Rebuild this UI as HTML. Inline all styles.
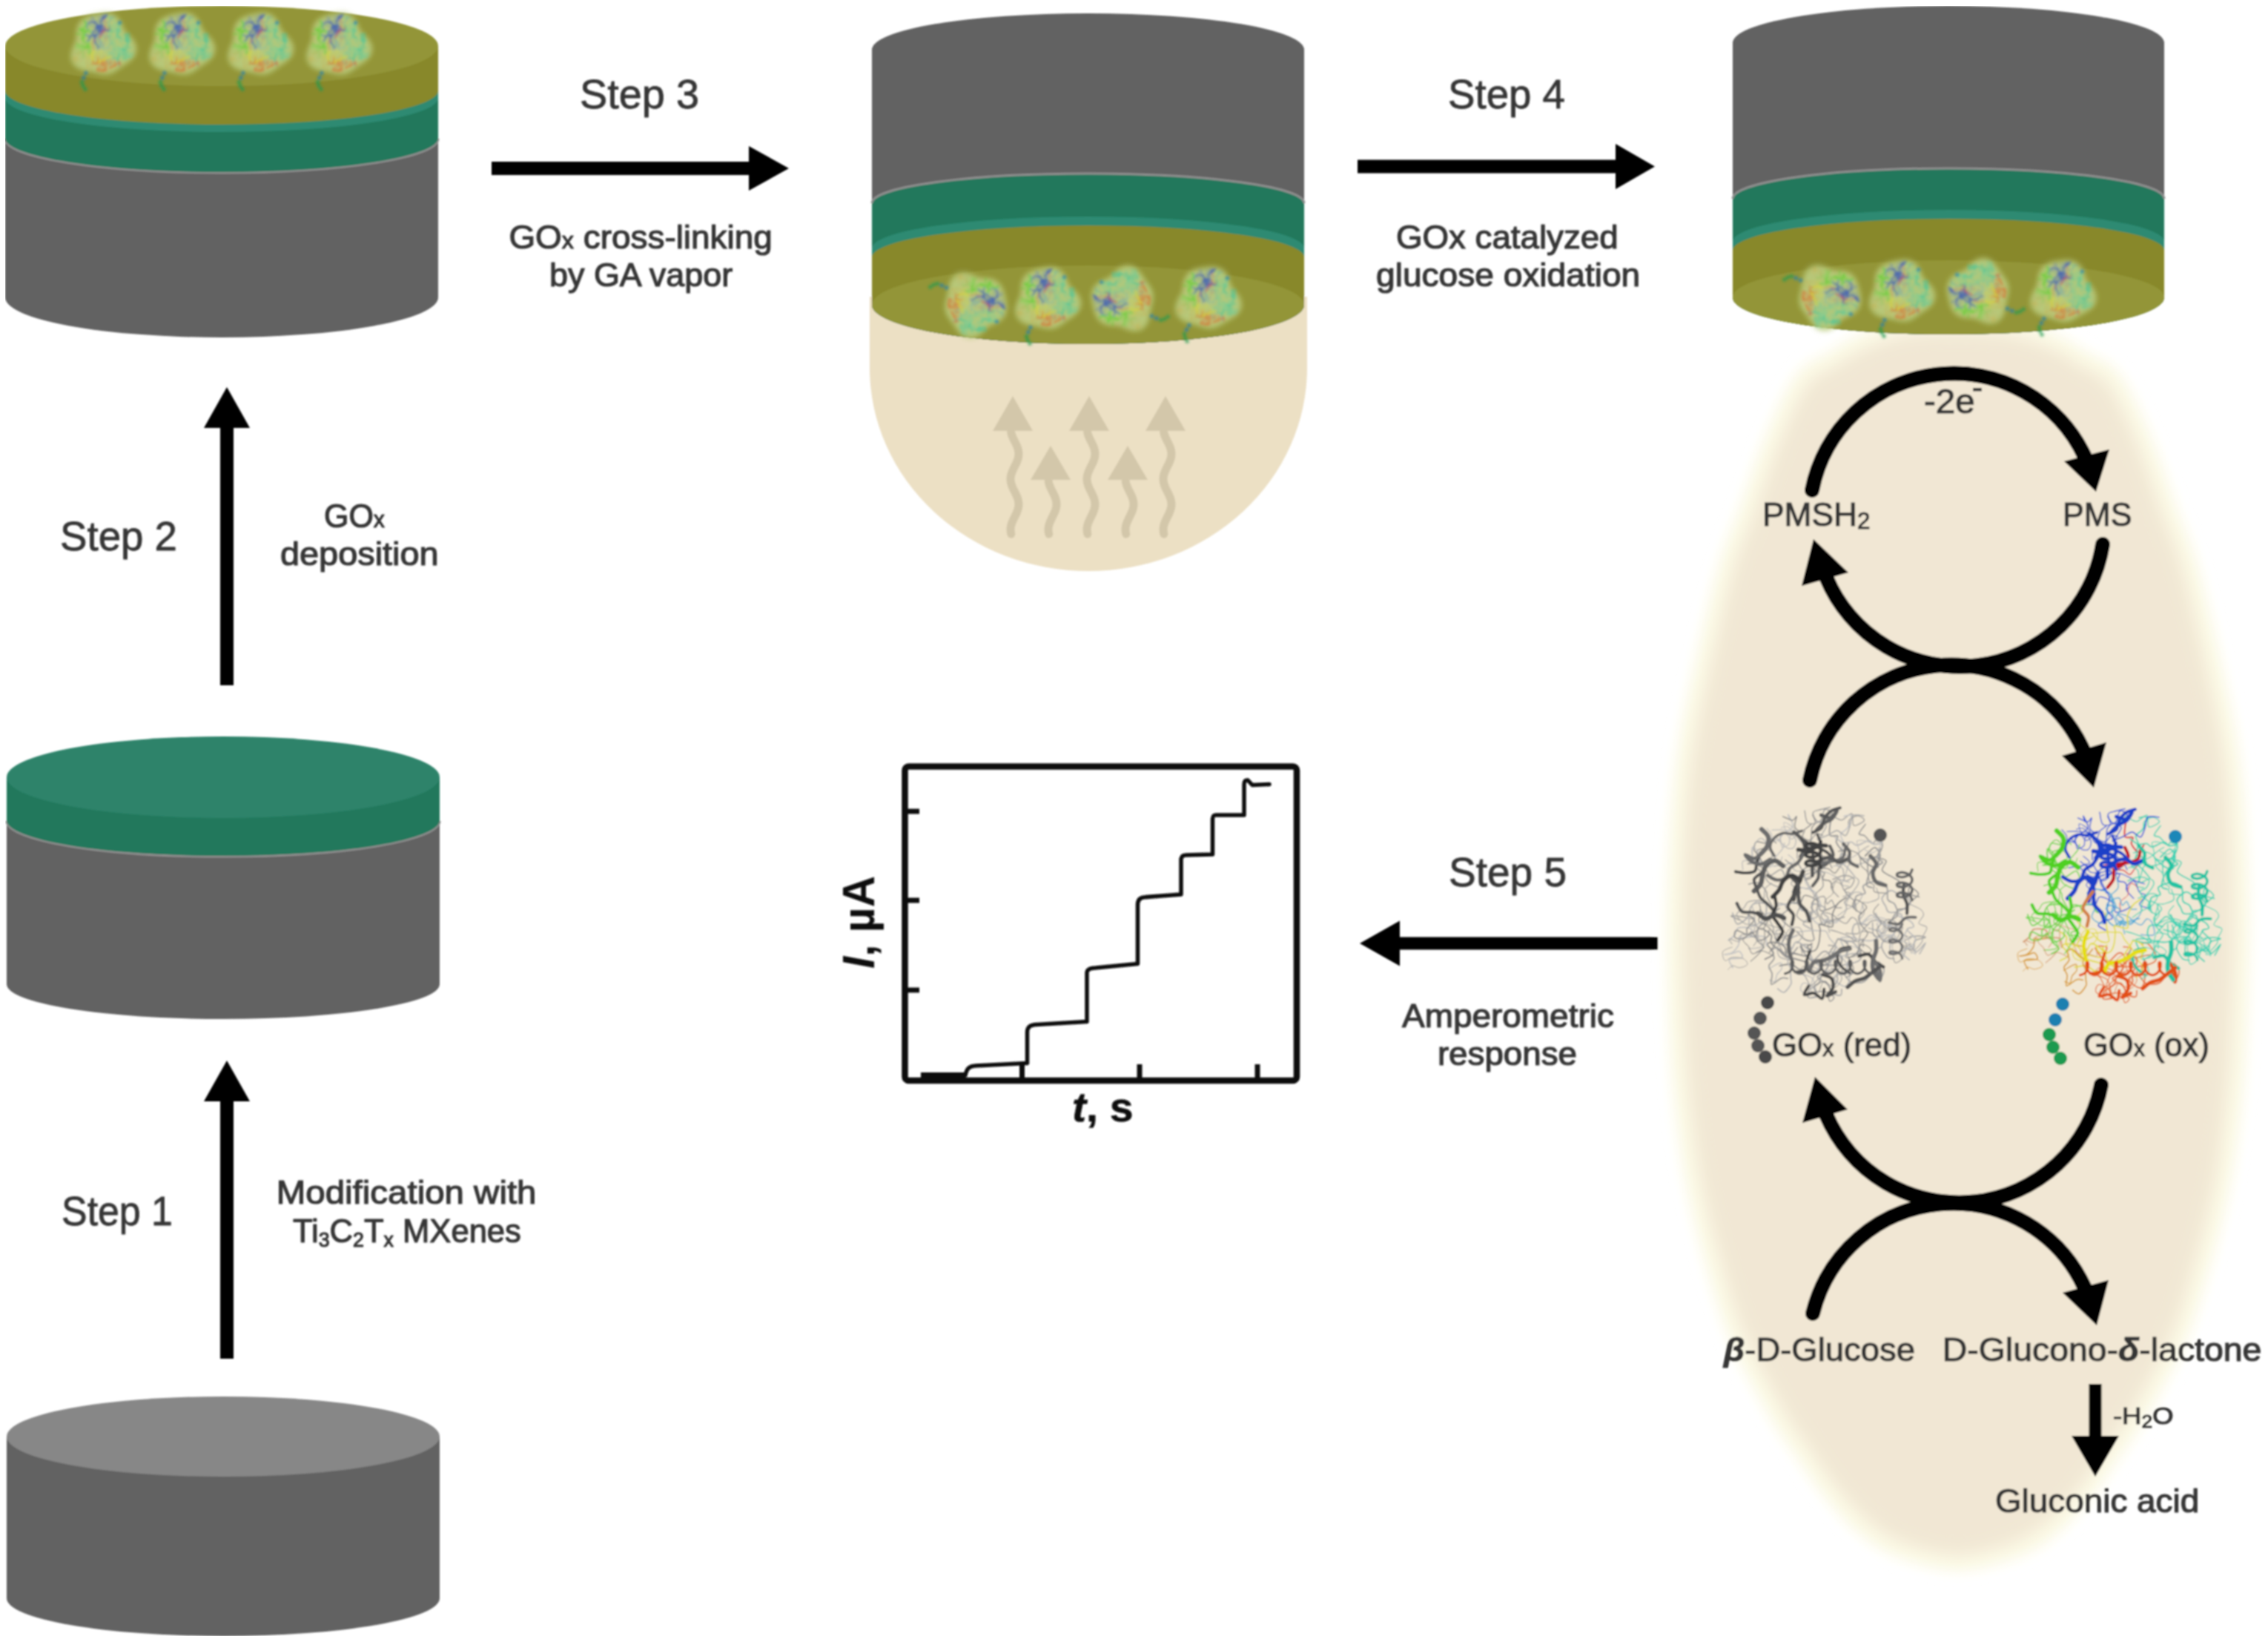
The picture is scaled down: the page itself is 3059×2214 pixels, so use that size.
<!DOCTYPE html>
<html><head><meta charset="utf-8"><style>html,body{margin:0;padding:0;background:#fff;overflow:hidden}svg{display:block}</style></head>
<body><svg width="3059" height="2214" viewBox="0 0 3059 2214">
<defs><filter id="soft" x="-10%" y="-10%" width="120%" height="120%"><feGaussianBlur stdDeviation="9"/></filter><filter id="soft2" x="-10%" y="-10%" width="120%" height="120%"><feGaussianBlur stdDeviation="11"/></filter><filter id="gblur" x="0" y="0" width="100%" height="100%"><feGaussianBlur stdDeviation="1"/></filter><filter id="blur1" x="-20%" y="-20%" width="140%" height="140%"><feGaussianBlur stdDeviation="1"/></filter><filter id="blur2" x="-30%" y="-30%" width="160%" height="160%"><feGaussianBlur stdDeviation="3"/></filter><filter id="bhalo" x="-30%" y="-30%" width="160%" height="160%"><feGaussianBlur stdDeviation="12"/></filter><filter id="bmini" x="-30%" y="-30%" width="160%" height="160%"><feGaussianBlur stdDeviation="6"/></filter><filter id="bbig" x="-10%" y="-10%" width="120%" height="120%"><feGaussianBlur stdDeviation="0.7"/></filter><g id="pgrey"><g fill="none" stroke-linecap="round" stroke-linejoin="round"><path d="M94.9,44 C95.7,42.9 96.6,40.1 99.6,37.2 C102.5,34.4 110.8,30.1 112.7,27.1 C114.7,24 112.3,21.8 111.3,19 C110.3,16.2 107.2,10.5 106.8,10.4 C106.4,10.2 108.7,16.7 109,17.9" stroke="#c2c2c2" stroke-width="1.6"/>
<path d="M184.8,170.2 C187.7,170.2 199.6,172.8 202.1,170.2 C204.6,167.5 201.2,157.8 199.6,154.3 C198,150.8 194.8,148.8 192.4,149.2 C190,149.7 188,156.2 185.4,157 C182.8,157.7 180,155.7 176.8,153.7 C173.6,151.8 169.9,146.9 166,145.1 C162,143.3 155.5,141.8 153.3,142.7 C151,143.6 150.6,148 152.5,150.5 C154.4,153.1 162.6,156.8 164.7,158" stroke="#989898" stroke-width="1.4"/>
<path d="M171.6,132.3 C170.1,133.1 166.5,135.8 163,137 C159.4,138.3 153.5,141.6 150.5,139.8 C147.6,138 148.8,129.4 145.3,126 C141.7,122.6 132.9,118.7 129.3,119.3 C125.6,119.8 125.9,127.5 123.5,129.3 C121.1,131.1 116.1,129.8 114.6,130" stroke="#868686" stroke-width="1.5"/>
<path d="M195.8,223.3 C194,223.5 189.3,224.2 185,224.9 C180.6,225.5 171.9,225.6 169.7,227.3 C167.5,229.1 169.1,233 171.6,235.4 C174,237.8 181.4,243.1 184.5,241.9 C187.6,240.7 189.9,232.6 190.1,228.2 C190.3,223.8 185.7,219.7 185.7,215.7 C185.6,211.8 189.1,206.5 189.8,204.6" stroke="#bebebe" stroke-width="1.7"/>
<path d="M104.2,178.4 C103.3,177.2 102,172.5 99.3,171.2 C96.6,170 90.1,172.4 88,171 C85.9,169.6 87.8,166.3 86.9,163 C86,159.6 81,153.9 82.6,150.7 C84.3,147.6 93.5,143.7 96.8,144 C100.2,144.2 101.9,150.8 102.9,152.2" stroke="#9b9b9b" stroke-width="1.4"/>
<path d="M68,68.1 C67.5,69.8 63.8,75.3 65.2,77.9 C66.7,80.6 73.6,81.6 76.5,84 C79.5,86.4 79.6,92.3 83,92.3 C86.4,92.4 93.9,83.6 97.1,84.5 C100.3,85.3 102.4,93.6 102.2,97.5 C102,101.4 99.7,107.1 96,107.8 C92.4,108.4 83.8,104.4 80.1,101.5 C76.4,98.5 76.3,93.2 73.8,90.1 C71.3,87 66.4,84.2 64.9,83" stroke="#9e9e9e" stroke-width="1.5"/>
<path d="M129.1,32.1 C128.7,33.5 125.2,38.5 126.4,40.5 C127.7,42.6 134.7,46.5 136.8,44.4 C138.9,42.4 137.7,32.3 138.9,28.3 C140,24.4 143.5,23.8 143.6,20.9 C143.7,17.9 140.2,12.5 139.6,10.8" stroke="#8b8b8b" stroke-width="1.4"/>
<path d="M136.5,141.3 C136.7,143.7 137.2,151.3 137.8,156.1 C138.4,160.9 139.6,166.4 140.1,170.3 C140.7,174.2 142.7,178.2 141.1,179.6 C139.4,181.1 133.9,181.1 130,179.1 C126.2,177.1 120,169.5 118,167.6" stroke="#979797" stroke-width="1.8"/>
<path d="M188.4,26.6 C188.5,25.1 187.2,20 189.2,17.6 C191.3,15.2 197.4,12 200.8,12.1 C204.1,12.2 210.4,16.2 209.5,18.3 C208.6,20.4 198.1,26.4 195.3,24.9 C192.5,23.4 195.3,10.3 192.7,9.1 C190,7.9 183.2,16.7 179.5,17.6 C175.8,18.4 173.6,15.6 170.4,14.4 C167.2,13.1 162.2,9.5 160.3,10 C158.4,10.6 159.1,16.3 158.9,17.5" stroke="#959595" stroke-width="1.3"/>
<path d="M106.8,64.4 C108.3,65.8 115.9,70.7 115.3,73.2 C114.7,75.8 103.3,76.6 103.3,79.6 C103.3,82.5 111.1,88.7 115.4,91 C119.7,93.3 126.6,91.5 129.1,93.3 C131.6,95.1 128.8,98.3 130.2,101.8 C131.7,105.2 136.7,112.1 138,114.2" stroke="#bfbfbf" stroke-width="1.2"/>
<path d="M127.1,185.7 C129,185.9 137.2,184.7 138.5,187.4 C139.7,190 133.9,198.4 134.4,201.5 C134.9,204.7 138.3,207.4 141.6,206.3 C144.8,205.3 150.5,196.5 153.9,195.3 C157.3,194 160.9,195.4 161.9,198.9 C163,202.4 161.6,211.9 160.2,216.2 C158.7,220.4 155.4,222.2 153.1,224.5 C150.8,226.8 145.2,227.4 146.4,230 C147.7,232.5 157.4,236.2 160.6,239.8 C163.8,243.4 164.7,249.6 165.5,251.5" stroke="#a0a0a0" stroke-width="1.9"/>
<path d="M61.8,73.5 C60.1,74.1 50.7,76.5 51.6,76.7 C52.6,76.8 65.3,77.4 67.4,74.6 C69.4,71.9 62.3,63.2 64,60.1 C65.7,57.1 74,55.2 77.6,56.1 C81.1,57.1 85.5,62.2 85.3,66.1 C85.1,70 77.8,77.4 76.3,79.7" stroke="#8d8d8d" stroke-width="1.1"/>
<path d="M149.6,254.9 C147,255.2 136.4,258.7 134.2,257.1 C132,255.5 134.2,248.3 136.4,245.2 C138.6,242.1 145,241.6 147.6,238.5 C150.2,235.5 150,230.9 152.2,226.8 C154.4,222.7 161,217.5 160.7,214 C160.3,210.6 153.7,206.9 150.3,206.1 C147,205.2 143.8,209.9 140.6,209 C137.4,208.1 134.3,204.1 131.3,200.7 C128.3,197.2 124.2,190.3 122.8,188.2" stroke="#a1a1a1" stroke-width="1.9"/>
<path d="M179.5,147.6 C178,149.1 173.9,155.7 170.5,156.3 C167,157 162.6,151.2 158.9,151.5 C155.2,151.8 151.8,159.2 148.2,158.2 C144.6,157.2 136.9,149.2 137.3,145.4 C137.6,141.6 148.5,138.9 150.2,135.2 C151.9,131.6 149,127.2 147.5,123.7 C146.1,120.1 144.9,116.4 141.7,114 C138.5,111.6 132,110.3 128.2,109.4 C124.4,108.6 121.4,108.1 118.7,108.9 C116.1,109.7 113.2,113.5 112.1,114.4" stroke="#c2c2c2" stroke-width="1.8"/>
<path d="M188.5,106.9 C187,106.6 180.1,106.9 179.2,104.8 C178.3,102.7 181.7,98.7 183.4,94.2 C185,89.7 186.5,80.4 189,77.7 C191.4,75 194.4,78.3 197.9,77.9 C201.5,77.4 207.1,76.5 210.2,74.9 C213.2,73.2 215.3,69 216.3,67.9" stroke="#b3b3b3" stroke-width="1.3"/>
<path d="M129.1,5.3 C129.8,8 130.1,19.5 133.6,21.8 C137.1,24.1 146.3,22 150.1,19 C153.8,16.1 153.5,5.8 156,3.9 C158.6,2 164.4,5.5 165.5,7.5 C166.5,9.5 165.5,14 162.5,16.1 C159.4,18.3 150.9,21.6 147.3,20.2 C143.6,18.8 139.7,10.6 140.4,7.8 C141,5 147.2,4.7 151,3.5 C154.8,2.3 161.2,1 163.3,0.5" stroke="#999999" stroke-width="1.5"/>
<path d="M81.8,233.5 C83,233.8 87.3,236.8 89,235.5 C90.6,234.2 90.3,228.8 91.8,225.9 C93.2,223.1 97.2,221.2 97.9,218.6 C98.6,215.9 99,210.2 96.2,210.2 C93.3,210.2 83.3,217 80.7,218.4" stroke="#c0c0c0" stroke-width="1.4"/>
<path d="M182.2,12.6 C183.8,12.5 191.4,9.6 192.2,12.2 C193,14.8 189.3,24.1 186.9,28.2 C184.5,32.3 178.6,33.6 177.7,37 C176.8,40.3 181.3,44.8 181.3,48.3 C181.4,51.7 178.5,56.2 177.9,57.8" stroke="#c6c6c6" stroke-width="1.8"/>
<path d="M150.7,71.7 C149.4,70.2 146.1,66.2 143.2,62.7 C140.2,59.2 136.4,53.6 132.8,50.7 C129.2,47.8 124.6,48.8 121.6,45.2 C118.5,41.7 118.1,33.4 114.7,29.3 C111.4,25.2 103.1,19.9 101.4,20.8 C99.6,21.6 102.9,30.5 104.3,34.2 C105.8,38 108.2,42.8 110.3,43.3 C112.4,43.9 117.5,40.5 116.9,37.8 C116.3,35.1 109.8,28.6 106.6,27 C103.4,25.4 99.2,27.9 97.7,28.1" stroke="#bbbbbb" stroke-width="1.1"/>
<path d="M255.1,195.8 C254,196.6 249.4,198 248.8,200.4 C248.2,202.8 249.5,209.5 251.4,210.1 C253.4,210.7 258.2,207.8 260.7,204.1 C263.2,200.4 266,191.7 266.5,187.7 C267.1,183.8 263,182.4 264.1,180.5 C265.1,178.6 271.3,177.1 272.7,176.4" stroke="#9a9a9a" stroke-width="1.2"/>
<path d="M192.2,72.5 C191.3,71.4 188.8,67.9 186.7,66.4 C184.6,64.8 181.3,61.8 179.8,62.9 C178.2,64.1 176.3,69.9 177.5,73.1 C178.8,76.3 183.9,78.9 187.1,82.4 C190.3,85.8 195.1,92 196.7,93.9" stroke="#b3b3b3" stroke-width="1.7"/>
<path d="M257.6,113.7 C259.4,115.3 266.4,120.6 268.7,123.4 C270.9,126.2 272.9,128 271.1,130.8 C269.2,133.6 262.2,138.3 257.5,140.1 C252.8,142 245.9,142.9 242.8,141.9 C239.6,141 240.1,137.5 238.5,134.3 C237,131.1 232.4,126.5 233.5,122.9 C234.6,119.3 241.4,113.3 245.2,112.7 C249.1,112.2 254.8,118.3 256.8,119.4" stroke="#b1b1b1" stroke-width="1.9"/>
<path d="M203.1,67.1 C205.3,69 212,76 216.1,78.4 C220.2,80.7 225.6,82.1 227.7,81.3 C229.7,80.6 228,76.7 228.5,73.9 C229,71 231.6,67.5 230.8,64.3 C229.9,61.2 226.7,54.6 223.3,54.9 C220,55.2 212.8,64.3 210.7,66.1" stroke="#898989" stroke-width="1.9"/>
<path d="M154.1,217.8 C153.5,216.3 150,211.7 150.1,208.9 C150.3,206.1 152.6,202.9 155.3,200.7 C157.9,198.5 163.4,195.3 166.1,195.5 C168.8,195.7 171.8,199.5 171.4,201.7 C171,203.8 164.9,207.3 163.6,208.4" stroke="#adadad" stroke-width="1"/>
<path d="M58.1,175.1 C56.4,175.3 50.7,176.4 47.7,176.5 C44.8,176.6 41.6,174 40.3,175.6 C39.1,177.1 41.6,182.1 40.1,185.6 C38.5,189.1 34.2,194.5 31,196.8 C27.8,199 20.7,199 21,199.1 C21.3,199.1 29.6,197.9 32.9,197.1 C36.3,196.4 39.2,193.7 41.1,194.7 C43,195.8 46.7,201.7 44.4,203.4 C42.2,205.2 29.7,203.2 27.6,205.4 C25.6,207.6 31.3,214.7 32.1,216.6" stroke="#c4c4c4" stroke-width="1.8"/>
<path d="M131.7,78.4 C133,78 136.9,75.4 139.6,76 C142.2,76.6 144,80.8 147.6,82 C151.2,83.2 157.4,82.3 161,83.5 C164.7,84.7 166.8,89.7 169.4,89.3 C172,88.9 173.6,84.4 176.6,80.9 C179.5,77.4 185.3,70.5 187.1,68.5" stroke="#8e8e8e" stroke-width="1.4"/>
<path d="M278.3,199 C277.7,197.4 277.3,191.9 274.2,189 C271.2,186.1 262.9,180.4 260.1,181.6 C257.4,182.9 259.5,193.8 257.7,196.4 C255.9,199.1 250.8,199.7 249.2,197.5 C247.6,195.2 246.6,185.5 248.2,182.9 C249.7,180.3 255.1,183 258.4,181.7 C261.6,180.4 265.6,174.2 267.7,175.3 C269.9,176.4 269.4,184.6 271.4,188.1 C273.4,191.6 279.8,194.7 279.9,196.2 C280,197.6 273.4,196.8 272.1,196.9" stroke="#bbbbbb" stroke-width="1.1"/>
<path d="M73.1,77.6 C71.9,75.3 68.2,67.1 66.2,63.9 C64.2,60.7 61.4,61 61,58.3 C60.7,55.5 61.3,48.8 63.9,47.3 C66.6,45.7 74,49.6 76.9,48.7 C79.7,47.8 78.9,41.8 81.2,41.8 C83.4,41.8 88.9,47.5 90.5,48.6" stroke="#8c8c8c" stroke-width="1.6"/>
<path d="M254.8,141.8 C254,139.9 252.3,133.4 250,130.6 C247.8,127.8 243,128.8 241.3,125 C239.6,121.2 242.1,111.9 239.9,107.7 C237.7,103.6 232.2,101 228.1,100.1 C224,99.3 218.6,101.3 215.3,102.5 C211.9,103.7 208.5,105.1 207.7,107.5 C206.9,109.8 212,114.3 210.5,116.5 C209,118.6 201.2,117.1 198.7,120.4 C196.3,123.8 196.2,134 195.7,136.7" stroke="#a1a1a1" stroke-width="2"/>
<path d="M75.7,166.3 C77.1,167.5 83,170.8 84.3,173.6 C85.6,176.3 82,179.7 83.7,183 C85.4,186.3 91.2,190.1 94.6,193.3 C98,196.5 100.3,200.3 104.2,202.3 C108.2,204.4 113.5,204.1 118.2,205.5 C123,206.9 130.5,208.3 132.8,210.5 C135.1,212.7 134.1,217.4 132.1,218.7 C130.1,220.1 124.3,219.6 120.8,218.5 C117.3,217.3 115.2,212.8 111,212.1 C106.8,211.3 98,213.8 95.5,214.2" stroke="#8c8c8c" stroke-width="2"/>
<path d="M124.6,223 C125,221.7 124,215.6 127,215.3 C130,215 138.3,219.4 142.7,221.3 C147.1,223.2 149.3,225.2 153.5,226.8 C157.8,228.4 164.8,231.4 168.3,231 C171.8,230.7 172.9,224.7 174.6,224.9 C176.4,225 179.9,229 179.1,232 C178.3,235.1 173.9,242.5 169.8,243.2 C165.8,243.9 158.4,235.1 154.9,236.3 C151.3,237.5 149.6,247.9 148.5,250.2" stroke="#8c8c8c" stroke-width="1"/>
<path d="M166.8,11 C166.3,13 164.1,18.7 163.5,23.2 C162.9,27.8 161.5,35.7 163.2,38.3 C164.9,41 172.1,37.5 173.6,39.1 C175,40.7 170.4,44.8 171.9,48.2 C173.3,51.6 179.3,59.7 182.1,59.7 C184.8,59.8 187.4,50.5 188.5,48.7" stroke="#969696" stroke-width="2"/>
<path d="M92.7,245.1 C94.1,245.9 98.3,251 101.3,249.9 C104.3,248.9 109.1,241.9 110.6,238.8 C112.1,235.7 110.5,234.9 110.3,231.3 C110.2,227.7 110.3,221 109.7,217.1 C109,213.2 106.1,212 106.3,207.8 C106.5,203.5 111.1,195.3 111.1,191.7 C111,188.1 108.6,187.4 105.8,186.1 C103.1,184.8 97.3,185.4 94.4,183.7 C91.6,182.1 89.6,177.7 88.6,176.4" stroke="#b5b5b5" stroke-width="1.8"/>
<path d="M147.9,59.9 C149,61.1 151.9,64.5 154.3,66.7 C156.6,68.9 161.5,70.9 162,73.1 C162.5,75.3 160.1,77.8 157.3,80 C154.5,82.3 148.5,87.2 145.4,86.6 C142.3,85.9 138.8,78.7 138.8,76.2 C138.8,73.8 141.6,73.3 145.4,71.9 C149.2,70.6 159,68.9 161.8,68.3" stroke="#858585" stroke-width="1.1"/>
<path d="M174.7,121.3 C173,119.1 164.5,112.1 164.6,108.2 C164.6,104.4 172.2,97.1 175.2,97.9 C178.2,98.8 180,109.9 182.6,113.1 C185.2,116.3 190.7,114.5 190.8,117.3 C190.8,120.1 182,127 182.9,129.9 C183.8,132.8 193.9,133.9 196.2,134.7" stroke="#9c9c9c" stroke-width="1.4"/>
<path d="M97.2,49.4 C97.2,47.5 95,40 97.1,37.8 C99.3,35.7 106.8,35.2 110.1,36.4 C113.5,37.6 116.7,41.9 117.4,44.9 C118,48 116,53.1 114,54.9 C112.1,56.6 108.4,56.5 105.8,55.6 C103.3,54.8 101.1,52.2 98.6,49.7 C96.1,47.3 92,42.3 90.7,40.9" stroke="#b4b4b4" stroke-width="1.3"/>
<path d="M139,184.4 C138,185.1 132.7,187 132.5,188.6 C132.4,190.3 138.4,192.3 138,194.3 C137.7,196.4 134.6,200.5 130.7,201 C126.8,201.6 118.7,197.6 114.5,197.8 C110.2,197.9 107.3,203.4 105.2,201.8 C103.1,200.3 104.7,191.8 101.9,188.6 C99.1,185.4 92.4,183.2 88.5,182.6 C84.7,182.1 79,182.8 78.8,185.4 C78.5,187.9 87.7,194.5 87.1,197.9 C86.6,201.2 77.5,204.1 75.6,205.4" stroke="#858585" stroke-width="1.9"/>
<path d="M68.5,138.8 C70.4,140.8 78.6,147.7 79.8,151 C81,154.4 77.1,156.4 76,158.8 C74.8,161.2 74.9,165.2 72.8,165.5 C70.8,165.8 65.7,162.7 63.7,160.4 C61.7,158.2 63.9,154.1 60.8,152 C57.7,150 50.3,149.1 45.1,148.3 C39.9,147.4 30.5,146.2 29.8,146.9 C29.1,147.6 39.2,151.5 41.1,152.4" stroke="#8e8e8e" stroke-width="1.4"/>
<path d="M119.5,189.7 C117.4,191.7 111.4,201.6 107.1,201.8 C102.8,202 97.1,192.4 93.5,190.9 C89.9,189.3 86.5,190.3 85.5,192.6 C84.5,194.9 88.5,201.2 87.7,204.8 C86.9,208.4 81.2,211.1 80.8,214.5 C80.3,217.8 84.6,221 85.2,225.2 C85.7,229.3 82.1,238.4 84.2,239.3 C86.3,240.3 94.1,232.1 97.8,230.8 C101.4,229.5 104.9,231.3 106.3,231.4" stroke="#979797" stroke-width="1.8"/>
<path d="M166.1,108.9 C165.6,107.4 165.4,102 163.3,100.1 C161.2,98.2 154.7,99.4 153.5,97.5 C152.2,95.6 156.9,90.3 155.6,88.6 C154.4,86.8 148.9,85.7 145.9,87 C142.8,88.3 139.9,94.3 137.1,96.2 C134.3,98.1 130.3,97.9 129,98.2" stroke="#868686" stroke-width="1.5"/>
<path d="M67.7,130.9 C68,132.2 69.6,134.6 69.6,138.5 C69.5,142.4 66.5,150.8 67.3,154.1 C68,157.4 71.7,156.8 74.2,158.3 C76.6,159.9 79,160.5 81.7,163.5 C84.3,166.5 88.7,172.9 90,176.3 C91.4,179.6 91,180.3 89.7,183.6 C88.3,186.9 83.1,193.8 81.8,195.9" stroke="#868686" stroke-width="1.3"/>
<path d="M99.6,12.9 C101.8,13.8 109.6,18 112.6,18 C115.7,18 117.6,11.5 118.1,13 C118.6,14.5 114.6,23.8 115.8,27 C116.9,30.3 121.1,32.9 124.8,32.4 C128.4,31.9 135.5,25.3 137.7,23.8" stroke="#878787" stroke-width="1.5"/>
<path d="M161.2,186.6 C162.8,186.9 170.5,186.1 171.1,188.5 C171.7,190.9 166,197.7 164.7,201.1 C163.5,204.5 166.1,206.3 163.5,208.8 C160.9,211.4 152.3,214.2 149,216.4 C145.7,218.6 147.2,221.4 143.8,221.8 C140.4,222.2 131.1,219.2 128.6,218.6" stroke="#9d9d9d" stroke-width="1.6"/>
<path d="M127.2,45.7 C129.8,46.7 138.5,50.2 142.6,51.4 C146.6,52.7 150,55.1 151.4,53.3 C152.7,51.4 149.4,45 150.5,40.4 C151.6,35.7 158.8,29.1 158.1,25.6 C157.3,22.1 147.9,20.3 145.9,19.3" stroke="#a5a5a5" stroke-width="1.4"/>
<path d="M31.9,143.2 C32.9,145.7 34.8,156.9 38.2,157.8 C41.6,158.7 49.2,152.4 52.2,148.8 C55.2,145.1 54.5,138.9 56.1,135.8 C57.8,132.7 58.7,131 62.1,130.2 C65.5,129.4 74,128.4 76.5,130.9 C78.9,133.3 76.9,142.4 77,144.7" stroke="#adadad" stroke-width="1.9"/>
<path d="M180.1,57.3 C179.5,59.1 177.8,64.5 176.4,68 C175.1,71.6 171.4,75.8 172.1,78.4 C172.7,80.9 178.6,79.9 180.5,83.4 C182.4,86.9 180.9,97.7 183.5,99.6 C186,101.6 192.7,95.1 195.8,95.1 C198.9,95.1 201.5,97.5 202,99.6 C202.6,101.7 201.1,104.7 199.2,107.6 C197.3,110.6 193.7,115.1 190.7,117.3 C187.6,119.6 182.5,120.5 180.9,121.1" stroke="#aaaaaa" stroke-width="1.4"/>
<path d="M124.7,192.4 C124.7,193.6 126.6,199.1 124.6,199.7 C122.7,200.4 117.2,197 113,196.2 C108.8,195.5 102.4,197.8 99.4,195 C96.5,192.3 94.4,183.4 95.2,179.7 C96,176 104,175.3 104.2,172.8 C104.5,170.2 100.6,166.8 96.9,164.6 C93.2,162.4 86.8,161.3 82.1,159.7 C77.5,158 71.1,155.7 68.9,155" stroke="#8c8c8c" stroke-width="1"/>
<path d="M211.1,23.4 C209.6,25.5 202.7,33.5 202.5,36 C202.3,38.6 207,36.7 210,38.9 C212.9,41.1 217.3,48.4 220.1,49.2 C222.9,49.9 224.4,43.4 226.8,43.7 C229.1,43.9 233.8,47.3 234.1,50.9 C234.3,54.4 231.4,61.6 228.2,65.1 C225.1,68.6 217.4,68.1 215.1,71.8 C212.8,75.6 214.6,85 214.5,87.6" stroke="#949494" stroke-width="1.6"/>
<path d="M94.9,179.2 C94.1,177.2 89.5,170.1 90.3,167.6 C91,165.1 97,166.8 99.1,164.3 C101.2,161.8 102.8,155.6 103,152.5 C103.2,149.3 102.2,146.5 100.2,145.3 C98.2,144.1 92.5,147.8 91.2,145.4 C89.9,143.1 90.6,133.6 92.3,131.2 C94,128.9 99.2,130 101.4,131.3 C103.5,132.6 104.6,137.6 105.3,138.8" stroke="#aeaeae" stroke-width="1.5"/>
<path d="M162.7,169.4 C162.4,167.3 159.1,159.6 161.3,156.7 C163.4,153.8 171.7,154.1 175.4,151.9 C179,149.8 181.4,146.6 183.1,143.8 C184.7,141.1 185.4,138 185.3,135.3 C185.2,132.7 182.8,129.1 182.3,127.8" stroke="#acacac" stroke-width="1.2"/>
<path d="M151.2,90.5 C151.6,93.2 155,102.2 153.8,106.8 C152.6,111.4 144.9,114.5 143.8,117.9 C142.7,121.4 146.9,124.1 147.1,127.7 C147.4,131.2 145.2,136 145.4,139.1 C145.6,142.2 146.9,143.1 148.2,146.4 C149.6,149.6 151.7,157.4 153.7,158.8 C155.7,160.2 157.6,155.8 160.3,154.6 C163.1,153.3 166.5,152.4 170.3,151.4 C174,150.4 180.7,149 182.7,148.5" stroke="#979797" stroke-width="1.4"/>
<path d="M207.3,131.6 C206.7,134.1 204,142.4 203.6,146.5 C203.3,150.6 202.6,155.7 205,156.4 C207.3,157.1 213.8,152 217.7,150.8 C221.6,149.5 224.8,148.4 228.4,148.8 C232.1,149.2 238.8,150.2 239.5,153.1 C240.2,156 234,164.2 232.9,166.4" stroke="#bfbfbf" stroke-width="1.2"/>
<path d="M119,69.4 C119.1,67.3 118.4,58.4 120.1,56.5 C121.7,54.6 125.9,59.7 128.7,58.2 C131.4,56.6 133.8,50.8 136.5,47.1 C139.2,43.5 142,37.5 144.9,36.1 C147.8,34.6 152.2,38.1 153.7,38.4" stroke="#979797" stroke-width="1.3"/>
<path d="M229.4,208.9 C230.5,210.6 235.7,215.3 236.2,218.9 C236.7,222.4 234,229.3 232.5,230.2 C230.9,231 229.1,224.7 226.9,223.9 C224.7,223.1 222.3,223.2 219.3,225.2 C216.3,227.2 213.2,233.9 208.8,235.8 C204.4,237.8 196.7,237.7 192.8,236.7 C188.9,235.7 187.8,232.6 185.5,229.8 C183.1,227.1 179.8,221.8 178.7,220.2" stroke="#a6a6a6" stroke-width="1.8"/>
<path d="M77.7,187.5 C77.3,185.4 78.2,177.6 75,175.3 C71.7,173 61.5,175.6 58.4,173.8 C55.4,172 59.8,166.3 56.7,164.5 C53.7,162.7 43.8,161.6 40.1,163 C36.4,164.3 37.1,170 34.7,172.9 C32.4,175.7 27.5,178.8 26.1,180" stroke="#c1c1c1" stroke-width="1.9"/>
<path d="M157.2,137.9 C157.1,135.9 155.3,129.5 156.9,126.1 C158.5,122.7 164.9,120.3 166.7,117.3 C168.5,114.2 166.8,110.6 167.7,107.9 C168.5,105.2 170.1,101.4 172,101 C174,100.7 178.2,104.9 179.5,105.7" stroke="#8a8a8a" stroke-width="1"/>
<path d="M185.7,203.5 C188.1,202.8 197.4,202.6 200.2,199.1 C203,195.5 201.4,187.3 202.4,182.2 C203.4,177.1 202.9,170.5 206,168.5 C209.1,166.6 217.3,168.7 220.9,170.5 C224.6,172.3 226.5,178 227.7,179.5" stroke="#919191" stroke-width="1.2"/>
<path d="M25.6,219.4 C26.7,218.5 29.5,214.6 32.1,214.1 C34.6,213.7 37.8,217.1 41.1,216.8 C44.4,216.5 51.1,214.4 51.8,212.3 C52.6,210.2 49.3,205.9 45.8,204.4 C42.4,202.8 35.3,202.5 31.2,203 C27.2,203.4 23.5,208.5 21.5,207.2 C19.4,205.8 17.2,198 18.8,195 C20.5,192 29.1,190.1 31.2,189.1" stroke="#9f9f9f" stroke-width="1"/>
<path d="M127.9,225.7 C129.8,226.7 136.9,228.1 139.6,231.6 C142.4,235 143.4,242.4 144.2,246.6 C145,250.9 144.9,257.2 144.3,256.9 C143.8,256.5 143.9,247.9 141.1,244.6 C138.4,241.4 130.9,236.8 128.1,237.3 C125.2,237.7 122.4,244.7 123.9,247.3 C125.4,250 134.7,255.1 137.1,253.2 C139.6,251.4 137.2,241.6 138.6,236.1 C140.1,230.7 143.7,225.2 145.9,220.7 C148.2,216.2 151.2,211 152.3,209.1" stroke="#bababa" stroke-width="1.2"/>
<path d="M224.7,143.2 C225.8,145.1 228.8,152.1 231.7,155 C234.6,157.8 237.4,159.2 241.8,160.3 C246.2,161.4 255.3,164.2 258.2,161.7 C261.2,159.2 260.9,147.8 259.6,145.4 C258.3,142.9 253.2,144.1 250.3,146.8 C247.3,149.4 244.3,157.1 242,161.1 C239.7,165.1 238.8,169.8 236.4,170.7 C234,171.7 231,168.1 227.5,166.9 C223.9,165.6 217.2,164.1 215.2,163.5" stroke="#b5b5b5" stroke-width="1.8"/>
<path d="M189.4,101.8 C187.5,101.2 181.4,99.6 178,98.1 C174.5,96.7 172.5,94.7 168.7,92.9 C164.9,91.2 158.9,87.7 155.3,87.7 C151.7,87.7 149.3,89.8 147.1,92.7 C144.8,95.7 144.5,102.5 141.7,105.6 C139,108.6 132.3,109.9 130.4,110.8" stroke="#b6b6b6" stroke-width="1.3"/>
<path d="M242.2,180.3 C243.6,178.5 249.1,173.2 250.7,169.8 C252.3,166.4 249.9,161.3 251.7,160.1 C253.5,159 260.9,159.7 261.3,162.8 C261.7,165.8 253.5,174.5 254.1,178.7 C254.7,182.9 261.6,187 264.7,187.9 C267.8,188.8 271.4,184.8 272.7,184.2" stroke="#979797" stroke-width="1.1"/>
<path d="M87.1,80 C89.8,79.6 99.5,78.3 103.4,77.6 C107.3,76.8 108.4,74.1 110.5,75.5 C112.7,76.9 112.4,84 116.3,85.8 C120.1,87.5 129.8,86.8 133.6,85.9 C137.5,85.1 138.2,81.6 139.1,80.7" stroke="#b4b4b4" stroke-width="1.3"/>
<path d="M249.9,204.7 C248.3,204.3 243.3,205.2 240.5,202.4 C237.7,199.5 233,192.3 233,187.9 C233.1,183.4 237.2,176.9 240.8,175.7 C244.3,174.4 250.8,178 254.3,180.3 C257.8,182.6 258.5,187.6 262,189.5 C265.6,191.4 272.9,193.2 275.6,191.7 C278.3,190.1 275.2,182.9 277.9,180.3 C280.7,177.7 291.2,177.1 292,176.1 C292.7,175 285.9,174.3 282.3,174.1 C278.7,174 272.3,175.1 270.3,175.2" stroke="#9f9f9f" stroke-width="1.6"/>
<path d="M53.6,191.1 C56.4,190.7 67.5,190.9 70.1,188.9 C72.8,186.9 71.9,181.7 69.6,179.1 C67.3,176.4 57.6,175.2 56.3,172.8 C54.9,170.5 60.6,169 61.5,165 C62.4,161.1 61.8,153.3 61.6,149.1 C61.4,144.9 60.7,142.6 60.2,139.8 C59.6,137 57.2,135 58.3,132.6 C59.4,130.2 65.4,126.6 66.8,125.4" stroke="#b5b5b5" stroke-width="1.3"/>
<path d="M53.9,150 C54.1,151.8 53.6,159.5 55.5,160.8 C57.4,162.2 62.7,159.4 65.3,158.2 C67.9,157 69.1,156 71.3,153.7 C73.4,151.4 75.1,146.1 78,144.2 C80.9,142.2 86.1,143.8 88.7,142 C91.2,140.2 89.5,135.4 93.1,133.5 C96.6,131.5 105.4,131.1 109.8,130.4 C114.1,129.8 116.8,128.2 119.3,129.7 C121.8,131.3 122.4,138 124.7,139.6 C127.1,141.3 132,139.5 133.4,139.4" stroke="#b9b9b9" stroke-width="1.8"/>
<path d="M185.8,137 C185.9,135.5 184.4,131.8 186,128.2 C187.6,124.6 192,117.3 195.5,115.6 C199,113.9 206.2,115.3 206.9,117.8 C207.5,120.4 202.9,127.6 199.5,131 C196,134.4 190.3,135.5 185.9,138.2 C181.6,140.8 175.4,145.5 173.3,146.9" stroke="#b2b2b2" stroke-width="1.2"/>
<path d="M198.9,140.6 C198.4,138.3 198.2,130.5 196.2,126.9 C194.2,123.3 188.9,121.6 186.8,119 C184.7,116.5 182.8,113.4 183.6,111.5 C184.3,109.6 189.5,109.9 191.5,107.5 C193.5,105.1 196.8,99.5 195.4,97 C194,94.5 187.8,92.4 183.1,92.5 C178.4,92.6 169.6,96.9 166.9,97.8" stroke="#9a9a9a" stroke-width="1.5"/>
<path d="M170.7,191.9 C170.1,193.5 166.6,199.1 167.4,201.2 C168.2,203.3 172,205.5 175.5,204.6 C178.9,203.7 185.3,198.6 187.9,195.8 C190.6,193 188.2,188.1 191.2,187.5 C194.1,187 203.3,191.8 205.8,192.6" stroke="#bfbfbf" stroke-width="1.2"/>
<path d="M178.3,228.1 C179.7,225.9 186.8,219.1 187,214.9 C187.2,210.6 181.6,207 179.3,202.8 C176.9,198.5 175.6,193.7 172.7,189.4 C169.9,185 164.9,180.3 162.4,176.7 C159.9,173.1 160,169.4 157.8,167.8 C155.6,166.2 151.9,167.3 149.1,167.1 C146.3,166.9 144,166.6 141.2,166.6 C138.4,166.6 135.9,166.9 132.4,167.2 C128.9,167.5 122.1,168.2 120,168.4" stroke="#bdbdbd" stroke-width="1.5"/>
<path d="M137.1,164.3 C135.5,163.2 128,160.1 127.3,158.1 C126.6,156.1 129.7,153.8 132.8,152.1 C135.9,150.5 144.9,150.6 146,148 C147,145.3 139.8,141 139.1,136.3 C138.5,131.6 142.8,125 141.9,119.7 C141,114.4 136.1,108.7 133.9,104.3 C131.7,99.9 128.4,95.7 128.7,93.2 C129,90.7 134.3,90.2 135.4,89.6" stroke="#adadad" stroke-width="1.7"/>
<path d="M107.3,138.6 C105.9,139.7 100.1,142.8 98.7,145.2 C97.3,147.6 97.6,150.5 99,153 C100.4,155.5 104.4,158 107.1,160.4 C109.8,162.7 116.1,164.7 115.2,167.4 C114.3,170 104.6,173.4 101.7,176.4 C98.8,179.3 98.7,183.6 98.1,185" stroke="#8b8b8b" stroke-width="1.5"/>
<path d="M56.3,208.2 C58.5,206.2 66,200.1 69,196.1 C72,192.1 73.3,188.5 74.3,184.3 C75.3,180.1 75.5,174.7 75.2,171.2 C74.8,167.6 75.3,163.3 72.5,163.2 C69.7,163 62.9,167.8 58.5,170.4 C54,172.9 46.5,175.5 45.7,178.5 C44.8,181.5 51.2,185 53.4,188.3 C55.6,191.5 55.6,197 58.8,198 C62,199 67.8,193.6 72.5,194.2 C77.3,194.7 84.8,200 87.3,201.1" stroke="#868686" stroke-width="1.1"/>
<path d="M185.6,182.6 C186.9,182.4 190.3,179.6 193.3,181.7 C196.2,183.7 201.6,190.9 203.3,195 C205.1,199 206.2,203.2 203.9,206 C201.7,208.9 193.8,210.7 189.8,212 C185.8,213.2 182.8,211.8 179.9,213.6 C177.1,215.4 173.9,219.3 172.8,222.8 C171.7,226.3 174.5,230.1 173.2,234.5 C171.9,238.9 164.4,246 165.1,249.2 C165.7,252.5 174.9,254.7 177.3,254.1 C179.6,253.6 178.7,247.2 179,245.8" stroke="#aaaaaa" stroke-width="1.8"/>
<path d="M269.2,130.4 C271.8,131.6 281.6,135.3 285,137.9 C288.3,140.4 289.7,142.4 289.4,145.6 C289.1,148.8 282.4,154.1 283.1,156.9 C283.9,159.7 293,159.6 293.8,162.6 C294.7,165.7 289.3,171.8 288.2,175.1 C287,178.4 289.3,179.2 287.1,182.4 C284.8,185.7 278.1,193.5 274.7,194.6 C271.3,195.8 268,190.3 266.7,189.4" stroke="#a3a3a3" stroke-width="1.1"/>
<path d="M80.7,166.1 C80.6,167.4 82.4,171.6 80.1,173.9 C77.8,176.3 70.7,181.2 67,180.4 C63.2,179.5 61,169.3 57.7,168.8 C54.4,168.4 50.8,176.3 47.1,177.5 C43.3,178.8 36.8,178 35.1,176.2 C33.4,174.4 34.3,167.2 36.9,166.5 C39.5,165.7 48.1,172.2 50.5,171.8 C52.9,171.5 49.5,167.7 51.2,164.4 C52.9,161.1 60.7,155.2 60.9,152.1 C61.1,149 53.8,146.9 52.4,145.9" stroke="#8e8e8e" stroke-width="1.7"/>
<path d="M252.3,142 C251.1,144.2 246.8,151.3 245,154.9 C243.3,158.4 243.3,162.6 241.6,163.2 C239.8,163.8 234.7,160.3 234.5,158.4 C234.4,156.5 237.7,152.3 240.7,151.8 C243.6,151.4 249.9,153.1 252.2,155.8 C254.5,158.4 251.9,164.3 254.5,167.5 C257,170.7 265.4,173.7 267.5,174.9" stroke="#969696" stroke-width="1.3"/>
<path d="M182.2,190.1 C181.5,187.9 176.1,179.6 178,177.2 C180,174.9 189.6,175.8 193.9,176.2 C198.2,176.5 199.4,178.7 203.8,179.4 C208.2,180.1 215.3,181 220.2,180.1 C225.2,179.3 228.4,175.3 233.3,174.2 C238.3,173.2 246.3,172.2 249.8,173.6 C253.3,175.1 252.2,182.5 254.2,182.9 C256.1,183.2 259.1,179 261.4,176 C263.7,172.9 266.9,166.3 268,164.4" stroke="#bebebe" stroke-width="1.8"/>
<path d="M167.6,80 C170.3,79.3 180.2,77.7 183.8,76.1 C187.5,74.5 186.4,72.6 189.4,70.2 C192.5,67.7 200.5,65.2 202.1,61.3 C203.8,57.4 198.3,49.2 199.5,46.6 C200.6,43.9 205.2,45 209.1,45.5 C213,46 218.9,48.7 222.8,49.7 C226.6,50.6 232.3,49.2 232.1,51.2 C231.8,53.2 225,60.6 221.3,61.6 C217.6,62.7 211.8,58.3 209.9,57.6" stroke="#b9b9b9" stroke-width="1.1"/>
<path d="M226.2,68 C227.1,66.1 231,56.2 231.1,56.3 C231.2,56.5 226.6,65.9 227.1,69 C227.6,72.1 235.2,72.8 234.2,75 C233.3,77.1 224.9,79.1 221.7,82.1 C218.5,85.2 216.5,89.5 215,93.4 C213.6,97.4 212.2,103.3 213,105.9 C213.9,108.4 219,108.3 220.2,108.8" stroke="#9c9c9c" stroke-width="2"/>
<path d="M31.1,184.8 C30.5,183.6 26.1,178.5 27.7,178 C29.3,177.4 38.1,182.5 40.7,181.6 C43.4,180.7 40.9,173.8 43.5,172.6 C46.1,171.4 52.9,173.4 56.5,174.4 C60.1,175.4 64.4,176.5 65,178.7 C65.6,180.9 60.8,186.1 60,187.5" stroke="#a1a1a1" stroke-width="1.1"/>
<path d="M173.8,177.7 C176.6,178.4 186.8,181.1 190.9,181.4 C195,181.7 197.9,181.5 198.3,179.5 C198.7,177.5 193.6,173.1 193.5,169.5 C193.3,165.9 194.1,159.6 197.5,157.9 C200.9,156.2 211.2,158.9 213.9,159.1" stroke="#aeaeae" stroke-width="1.9"/>
<path d="M270.2,206.3 C268.6,204.6 260.3,199.2 260.6,196.2 C261,193.2 269.3,191.3 272.4,188.3 C275.4,185.3 279.6,182.1 278.8,178.3 C277.9,174.4 267.8,168.2 267.3,165.4 C266.9,162.6 275.6,163.5 276.1,161.4 C276.6,159.4 273.9,155.7 270.4,153.3 C266.9,150.9 257.6,148 255.1,146.9" stroke="#bbbbbb" stroke-width="1.9"/>
<path d="M207.9,188.8 C207.9,187.1 209.1,179.5 207.5,178.3 C206,177.1 202,182.2 198.7,181.4 C195.4,180.7 191.7,176 187.7,173.9 C183.7,171.8 178.6,170.1 174.6,168.8 C170.7,167.5 165.7,166.4 163.9,165.9" stroke="#9c9c9c" stroke-width="1.4"/>
<path d="M111.2,128.9 C113.2,129.4 121.7,129.2 122.9,132.2 C124.1,135.3 117.1,143.3 118.6,147.1 C120.2,151 128.8,155.9 132.2,155.3 C135.6,154.7 137.7,147.9 138.9,143.4 C140.1,139 136.7,132.3 139.3,128.5 C141.9,124.7 151.2,120.2 154.5,120.5 C157.8,120.9 157.4,129.9 159.3,130.7 C161.1,131.6 163.7,124.9 165.5,125.6 C167.4,126.4 168.1,133.4 170.3,135.1 C172.5,136.9 177.3,135.8 178.7,136" stroke="#999999" stroke-width="1.4"/>
<path d="M215.7,52.6 C214.4,53.4 210.4,55.2 208.1,57.1 C205.7,59.1 200.7,62.3 201.5,64.5 C202.4,66.8 208.7,70.4 213.2,70.7 C217.6,71 225.1,68.4 228.1,66.4 C231.1,64.3 231.1,57.9 231.2,58.5 C231.3,59.2 229.1,68.5 228.7,70.5" stroke="#a5a5a5" stroke-width="1.2"/>
<path d="M184.9,230 C186.3,229.1 192,227 193.6,224.6 C195.2,222.1 195.5,219.5 194.5,215.3 C193.4,211.1 185.7,202.3 187.3,199.4 C188.9,196.4 201.4,199.7 204.1,197.7 C206.8,195.7 202.3,189.3 203.5,187.5 C204.7,185.6 208.8,185.5 211.3,186.5 C213.9,187.5 218.8,191.6 219,193.4 C219.2,195.3 215.3,197.9 212.7,197.6 C210.2,197.3 205.2,192.6 203.7,191.6" stroke="#838383" stroke-width="1.1"/>
<path d="M243.8,153.8 C245.5,152.7 251.7,150 253.5,147.5 C255.3,144.9 252.5,140.2 254.8,138.4 C257.1,136.7 264.7,138.5 267.4,136.9 C270.1,135.3 268.6,131.8 271.2,128.6 C273.7,125.4 282.5,121.1 282.6,117.7 C282.6,114.3 273.5,108.1 271.4,108 C269.3,107.9 268.1,114.8 270.2,117 C272.2,119.3 281.3,120.8 283.6,121.6" stroke="#909090" stroke-width="1.6"/>
<path d="M202.8,151.7 C203.9,150.3 208.7,146.7 209.4,143 C210,139.3 205.8,131.8 206.8,129.4 C207.7,127.1 211.3,130 215,128.9 C218.7,127.8 227.1,126.2 228.9,122.9 C230.7,119.6 226.2,111.5 225.7,109.2" stroke="#a9a9a9" stroke-width="1.2"/>
<path d="M205.8,167.9 C207.1,166.4 211.5,161.7 213.9,159.2 C216.3,156.8 216.5,154.2 220.1,153.4 C223.8,152.6 233,152.4 235.8,154.3 C238.6,156.2 238.1,161.6 237.1,164.8 C236.2,168 232.6,172.1 230.1,173.5 C227.6,174.9 223.7,175.9 222.1,173 C220.5,170.1 220.8,158.9 220.6,156" stroke="#a5a5a5" stroke-width="1.5"/>
<path d="M155.4,156.9 C156.4,155.7 161.3,151.9 161,149.6 C160.7,147.3 154.3,145.4 153.5,143.2 C152.7,140.9 157.9,138.1 156.1,136 C154.3,133.9 145.8,130.6 142.7,130.6 C139.5,130.6 138.2,135 137.3,135.8" stroke="#aaaaaa" stroke-width="1.6"/>
<path d="M153.2,205.2 C153.3,206.5 151.8,211.5 154,212.9 C156.2,214.3 162.6,213.2 166.4,213.4 C170.1,213.5 174.5,215.6 176.5,213.8 C178.6,212 180.3,205.2 178.6,202.5 C176.8,199.9 168.1,198.5 166.1,197.7" stroke="#8d8d8d" stroke-width="1.9"/>
<path d="M167.8,218 C166.1,218.8 161.3,220.3 157.6,222.9 C154,225.5 149.4,230.7 146,233.7 C142.5,236.6 139.7,241.6 136.9,240.5 C134.1,239.5 131.8,230.3 129,227.5 C126.2,224.7 121.5,224.3 120,223.6" stroke="#a0a0a0" stroke-width="1.3"/>
<path d="M123.7,184.7 C124.5,186.3 125.3,192.7 128.5,194.2 C131.7,195.7 139.4,195.5 142.7,193.7 C146,191.9 147,188.1 148.2,183.5 C149.4,178.9 149.8,170.3 150,166.1 C150.2,161.9 146.6,159.1 149.4,158.3 C152.1,157.6 163.6,163.6 166.4,161.4 C169.3,159.3 165.2,150.5 166.5,145.3 C167.7,140.1 170.9,134.2 173.9,130.4 C177,126.5 183.2,123.5 185,122.2" stroke="#868686" stroke-width="1.8"/>
<path d="M101.8,48.8 C101.4,50 101.4,53 99.2,56.5 C96.9,59.9 91.2,65.5 88.6,69.6 C85.9,73.7 86.7,79.9 83.1,80.9 C79.6,81.8 71.4,77.2 67.4,75.3 C63.4,73.4 60.7,72.8 59.2,69.3 C57.8,65.8 57.2,55.6 58.6,54.4 C60,53.3 66,59.4 67.6,62.3 C69.3,65.3 67.4,68.4 68.7,71.9 C69.9,75.3 74.2,81.1 75.3,82.9" stroke="#bfbfbf" stroke-width="1.4"/>
<path d="M89,139.5 C88.2,138.2 85.7,134.4 84,131.4 C82.3,128.4 79.7,124.4 78.6,121.5 C77.5,118.7 79.3,117.4 77.3,114.2 C75.3,111 70.4,103.9 66.5,102.3 C62.5,100.6 55.8,103.9 53.6,104.3" stroke="#969696" stroke-width="1.5"/>
<path d="M226.2,46.3 C227.5,46.6 234.7,47.1 234,47.8 C233.4,48.5 225.6,51 222.5,50.6 C219.5,50.1 219.6,45.2 215.9,45.4 C212.1,45.6 203.9,51.5 200,51.8 C196,52.1 195.3,47.9 192.2,47.4 C189.1,46.8 185.1,49.5 181.3,48.4 C177.6,47.4 171.8,42.3 169.9,41.1" stroke="#bababa" stroke-width="1.8"/>
<path d="M151.7,215.7 C149.9,214.3 143.5,211 140.7,207.4 C137.9,203.8 136.7,197.4 134.8,194.2 C132.9,190.9 132,190.1 129.1,188.1 C126.2,186 120.6,181.5 117.6,182.1 C114.6,182.6 113.2,191.1 111.2,191.5 C109.2,191.9 105.6,187 105.7,184.6 C105.8,182.1 109.6,178.5 111.9,176.5 C114.2,174.6 118.3,173.5 119.5,172.9" stroke="#b1b1b1" stroke-width="1.9"/>
<path d="M84.4,103 C83,104.2 77.8,106.6 75.9,110.3 C74,114.1 75.6,122.8 73.1,125.4 C70.6,128.1 64.2,125.6 60.7,126.2 C57.1,126.7 54.1,127 51.8,128.7 C49.6,130.3 49.6,133.4 47.2,136.1 C44.8,138.9 37.1,141.4 37.3,145 C37.5,148.5 44,154.9 48.5,157.5 C52.9,160 61.3,156.9 64.2,160.2 C67.1,163.5 65.8,174.4 66.1,177.2" stroke="#a0a0a0" stroke-width="1.2"/>
<path d="M226.6,157.2 C227.5,159.6 229.6,167.2 231.6,171.1 C233.6,175.1 235.7,181 238.5,181 C241.4,181 246.2,173.6 248.6,171 C251,168.3 253.6,166.7 252.9,164.9 C252.2,163 248,161.2 244.6,159.9 C241.1,158.7 236.4,159.9 232.3,157.5 C228.3,155.2 223.5,147.1 220.1,146 C216.8,144.9 214.8,148.6 212.3,150.8 C209.7,153.1 206,158 204.7,159.4" stroke="#bfbfbf" stroke-width="1.8"/>
<path d="M172.1,201.9 C170.4,201.4 162.3,201.6 162,198.8 C161.7,196.1 168,188.8 170.2,185.4 C172.3,182 172,178.4 174.9,178.4 C177.8,178.4 185.8,181.5 187.4,185.5 C189,189.6 184.9,199.8 184.5,202.7" stroke="#9f9f9f" stroke-width="1.9"/>
<path d="M45.8,84.7 C45.8,82.7 43.6,75.3 45.8,73.1 C47.9,71 56.7,74.2 58.8,71.8 C60.9,69.4 57.4,63 58.5,58.7 C59.5,54.3 62.9,48.2 65.1,45.6 C67.4,42.9 69.4,41.5 72.1,42.9 C74.8,44.3 78.5,49.8 81.4,54.1 C84.2,58.4 86.8,65.5 89.2,68.8 C91.6,72.2 94.1,74.4 95.6,74.1 C97.2,73.9 98.2,68.3 98.8,67.2" stroke="#b7b7b7" stroke-width="1.2"/>
<path d="M166.1,254.4 C165.4,252.3 163.4,245.1 161.8,241.9 C160.1,238.8 159.6,235.4 156.4,235.3 C153.2,235.2 144.4,239 142.5,241.3 C140.7,243.6 142.7,247.9 145.3,249.1 C147.8,250.4 155,246.9 157.9,249 C160.9,251 161,260.5 162.7,261.7 C164.5,262.9 169.7,258.4 168.5,256.2 C167.2,254 159.9,249.5 155.3,248.6 C150.7,247.7 143.2,250.3 140.8,250.7" stroke="#8f8f8f" stroke-width="1.4"/>
<path d="M78.1,29 C79.1,30.2 82.8,33.8 84.1,36.2 C85.3,38.6 83.6,41.7 85.7,43.5 C87.8,45.2 94.5,44.9 96.6,46.7 C98.8,48.4 97,53.5 98.8,54.1 C100.7,54.7 106.1,52.4 107.8,50.3 C109.5,48.1 108,44.2 108.8,41.4 C109.6,38.5 114.7,34.9 112.7,33.2 C110.7,31.5 101.3,31.3 96.7,31 C92,30.7 87,31.3 85,31.3" stroke="#bebebe" stroke-width="1.3"/>
<path d="M198.4,197.1 C195.8,197.6 187.6,199 182.4,200.2 C177.3,201.3 170.5,201.9 167.5,204 C164.5,206.1 164.6,209.6 164.4,212.6 C164.2,215.5 167.6,220.1 166.2,221.6 C164.8,223 159,221.7 155.9,221.3 C152.8,220.9 150.8,220.2 147.7,219.1 C144.6,218 140.3,215.6 137.2,214.9 C134.2,214.1 130.6,214.7 129.2,214.7" stroke="#bababa" stroke-width="1.1"/>
<path d="M102.9,71.5 C104.5,72.6 109.7,77.4 112.6,78.3 C115.4,79.1 117.8,75.5 120,76.5 C122.2,77.6 123.5,83.8 125.8,84.4 C128.2,85 130.3,81.6 134.1,80.1 C138,78.6 144.4,76.4 148.8,75.5 C153.3,74.5 158,73.1 160.9,74.3 C163.7,75.5 165.1,81.2 166,82.6" stroke="#929292" stroke-width="1.4"/>
<path d="M118.7,183.8 C120,182.1 125.8,177.3 126.3,173.9 C126.8,170.4 124.9,164.1 121.8,162.8 C118.6,161.5 111.1,162.9 107.5,165.9 C104,168.9 102.9,177 100.4,180.8 C98,184.6 93.5,185.2 92.7,188.7 C91.8,192.3 92.2,199 95.2,202 C98.2,205 108.2,205.9 110.8,206.7" stroke="#a5a5a5" stroke-width="1.1"/>
<path d="M159,79 C156.5,79.2 147,78.7 144.3,80.2 C141.7,81.6 145.4,84.9 143.3,87.6 C141.2,90.2 135.1,95.3 131.6,96.1 C128.2,96.8 126.2,90.9 122.8,92.1 C119.3,93.4 110.8,99.8 110.9,103.5 C111,107.3 122.1,110.4 123.3,114.7 C124.6,118.9 117.5,124.9 118.5,128.9 C119.6,132.9 127.7,137 129.5,138.7" stroke="#969696" stroke-width="1.1"/>
<path d="M239.3,116.5 C236.6,116.1 225.9,116 223.1,114.2 C220.3,112.4 223.7,107.8 222.6,105.6 C221.5,103.4 218.1,104 216.6,100.9 C215.1,97.8 215.3,90.8 213.4,87.2 C211.5,83.5 207,82.8 205.2,79.1 C203.4,75.4 205.4,68.4 202.6,64.9 C199.7,61.4 192.7,59 188,58.2 C183.3,57.4 176.6,59.7 174.4,60" stroke="#8b8b8b" stroke-width="1.2"/>
<path d="M208.8,11.8 C206.3,11.8 196.8,9.6 193.7,12 C190.6,14.4 191.6,21.9 190,26.4 C188.4,30.8 186.8,37.8 184,38.7 C181.1,39.6 176.5,32 172.9,31.8 C169.2,31.6 166.2,35.5 161.8,37.5 C157.4,39.5 148.9,42.9 146.3,44" stroke="#aaaaaa" stroke-width="1.7"/>
<path d="M223.8,191.4 C225,191.1 229.6,191.3 231.4,189.7 C233.2,188.2 232.5,183.3 234.6,181.9 C236.7,180.5 242.3,178.8 244,181.2 C245.8,183.6 242.5,193.8 245.1,196.1 C247.7,198.4 254.9,196.4 259.5,195 C264.2,193.7 269.4,188.1 272.8,188.1 C276.3,188.2 276.9,196.1 280.2,195.2 C283.4,194.4 291.5,182.7 292.2,183.2 C292.9,183.7 285.5,195.5 284.2,198" stroke="#b4b4b4" stroke-width="1.7"/>
<path d="M243.2,183.4 C241.7,182.8 237.2,182.8 234.4,180 C231.6,177.1 226.5,170.3 226.2,166.3 C225.8,162.2 233,159.6 232.3,155.6 C231.6,151.6 222.4,146.2 221.8,142.2 C221.2,138.1 227.7,133 228.9,131.2" stroke="#8e8e8e" stroke-width="1.2"/>
<path d="M228.8,68.9 C230.5,69.6 238.1,70.1 238.9,72.9 C239.7,75.7 232.5,82.2 233.6,85.6 C234.7,89.1 241.8,91.2 245.5,93.6 C249.3,95.9 254,97.6 256.1,99.8 C258.1,102 257.6,105.8 257.9,106.9" stroke="#8c8c8c" stroke-width="1.7"/>
<path d="M187.8,203.8 C189.7,202.7 196.2,200.8 199.1,197.3 C202.1,193.8 203,187.5 205.5,183 C208,178.6 214,174.5 214,170.6 C214,166.6 207.3,163.2 205.3,159.4 C203.3,155.6 200.8,151.7 202,147.9 C203.2,144 211.9,139.3 212.5,136.1 C213.1,132.8 208.3,130.2 205.6,128.5 C203,126.7 198.5,124.5 196.6,125.7 C194.8,126.8 192.9,132.5 194.5,135.6 C196.2,138.7 204.4,142.7 206.3,144.1" stroke="#8b8b8b" stroke-width="1.4"/>
<path d="M95.1,136.8 C94,137.6 92,138.7 88.8,141.5 C85.7,144.3 80.1,149.6 76.3,153.5 C72.5,157.3 68,160.1 66,164.3 C64,168.6 63,175 64.3,179.1 C65.7,183.2 74.2,186.1 74.1,189 C74.1,191.8 65.7,194.9 64,196.1" stroke="#999999" stroke-width="1.8"/>
<path d="M125.1,32.4 C123,33 116.8,35.8 112.5,36.3 C108.2,36.8 103.5,34.4 99.4,35.4 C95.3,36.4 90.8,39 88,42.1 C85.2,45.2 82.5,50 82.5,54 C82.5,58 87.1,63.9 88.1,65.9" stroke="#686868" stroke-width="3.6"/>
<path d="M163.1,52.8 C163.8,54.8 168.1,61.3 167.5,65.2 C167,69 163.2,73 160,75.9 C156.9,78.8 150.7,79.3 148.6,82.6 C146.5,85.8 148.9,91.7 147.5,95.6 C146,99.6 141.1,104.6 139.9,106.4" stroke="#5f5f5f" stroke-width="4.4"/>
<path d="M126.7,87.6 C125.9,89.7 123.9,96 122.2,100 C120.4,104 117.5,107.5 116.1,111.6 C114.8,115.8 114.4,122.5 114,124.6" stroke="#4a4a4a" stroke-width="6"/>
<path d="M100,79.6 C98.1,78.5 92.6,72.6 88.9,72.5 C85.1,72.4 80.1,75.8 77.3,78.9 C74.6,82 73.7,86.9 72.4,91.1 C71.1,95.2 71.7,100.2 69.8,103.9 C67.8,107.7 62.2,111.9 60.7,113.5" stroke="#5e5e5e" stroke-width="6.5"/>
<path d="M146.3,37.4 C146.9,39.6 150.9,46.5 149.9,50.1 C148.8,53.6 141.3,55.1 140,58.8 C138.6,62.4 141.4,69.6 141.7,71.8" stroke="#555555" stroke-width="3.6"/>
<path d="M111.8,95.1 C113.2,96.8 118.8,101.3 120.3,105.2 C121.7,109 120,114 120.4,118.3 C120.9,122.7 121.1,127.4 122.9,131.2 C124.8,135 129.4,137.4 131.5,141.2 C133.7,144.9 135,151.6 135.7,153.6" stroke="#545454" stroke-width="5"/>
<path d="M123.5,66.9 C124.4,64.9 129,59.1 129.1,55 C129.3,51 126.9,46.2 124.4,42.8 C122,39.3 116.2,35.6 114.5,34.1" stroke="#5c5c5c" stroke-width="4.8"/>
<path d="M124.2,42.8 C126.1,44 131.4,47.9 135.3,49.9 C139.2,52 143.5,53.2 147.4,55.1 C151.4,56.9 155.6,58.6 159.1,61.2 C162.6,63.8 166.8,69 168.4,70.5" stroke="#535353" stroke-width="4"/>
<path d="M144.9,31.4 C146.4,29.9 150.8,24.9 154.3,22.3 C157.8,19.7 162.7,18.8 165.8,15.9 C168.9,12.9 173.3,5 173,4.8 C172.7,4.6 167.7,13.4 164,14.5 C160.4,15.5 153.4,11.7 151.3,11.1" stroke="#606060" stroke-width="4.9"/>
<path d="M120.4,57.5 C122.6,57.7 129.4,59.8 133.5,58.9 C137.5,58 140.6,53.1 144.7,52 C148.8,50.9 155.7,52.3 157.9,52.3" stroke="#454545" stroke-width="5.6"/>
<path d="M142.5,78.4 C144.6,77.8 150.9,75.7 155.2,74.8 C159.4,73.9 164,74.1 168.2,73.1 C172.4,72 177.9,71.1 180.5,68.2 C183.1,65.3 183.4,57.6 184,55.5" stroke="#6e6e6e" stroke-width="4"/>
<path d="M140.1,34.5 C142,33.4 149,31.3 151.6,28.1 C154.2,25 153.5,19.4 155.7,15.6 C157.8,11.9 160.9,8.2 164.4,5.8 C167.9,3.4 174.7,2.1 176.8,1.3" stroke="#565656" stroke-width="4.2"/>
<path d="M139.5,92.5 C139.7,90.3 138.5,82.9 140.4,79.4 C142.3,75.9 147,73.2 150.9,71.4 C154.7,69.6 159.6,67.9 163.7,68.4 C167.8,69 171.3,74.5 175.3,74.7 C179.3,74.9 185.5,70.6 187.5,69.8" stroke="#595959" stroke-width="5"/>
<path d="M88.3,141.1 C86.8,139.5 82.5,134.5 79.4,131.4 C76.3,128.3 72.1,126.1 69.6,122.6 C67.1,119.1 66.1,114.6 64.6,110.5 C63.2,106.3 59.9,101.4 60.9,97.8 C62,94.3 69.1,90.5 70.8,89.1" stroke="#575757" stroke-width="4.1"/>
<path d="M35.8,87.4 C38,87.7 44.6,89.1 48.9,89 C53.3,88.8 59.3,89 61.9,86.5 C64.5,83.9 63.3,77.7 64.7,73.6 C66.1,69.5 69.4,63.7 70.4,61.7" stroke="#4d4d4d" stroke-width="4.1"/>
<path d="M79,92.4 C81,93.4 86.7,97.9 90.8,98.3 C94.9,98.8 100.6,97.7 103.6,95.2 C106.6,92.6 106.1,86.4 108.8,83.1 C111.4,79.8 116.4,78.5 119.5,75.5 C122.5,72.4 125.7,66.4 126.9,64.6" stroke="#6b6b6b" stroke-width="4.6"/>
<path d="M85.8,121.3 C87.3,119.7 92.3,115.2 94.7,111.6 C97.1,108 97.5,102.9 100.3,99.7 C103,96.5 107.6,92.7 111.4,92.6 C115.2,92.5 121,98 122.9,99" stroke="#3f3f3f" stroke-width="5.7"/>
<path d="M71.8,61.9 C70,63.1 64.9,69.1 61,69.5 C57.2,70 49.4,63.7 48.9,64.4 C48.4,65.2 54.3,71.9 57.9,74 C61.5,76.1 66.7,77.6 70.7,77 C74.8,76.5 80.3,71.7 82.3,70.7" stroke="#6b6b6b" stroke-width="4.8"/>
<path d="M70.2,63.2 C71.6,61.5 76.9,56.8 78.5,53 C80.1,49.1 81,43.7 79.8,39.9 C78.5,36.1 72.4,31.8 70.9,30.2" stroke="#6d6d6d" stroke-width="6.3"/>
<path d="M189.9,224 C188.2,222.7 182.1,219.4 179.4,216.1 C176.6,212.8 173.8,208.5 173.4,204.4 C173,200.3 174.2,194.3 177,191.7 C179.7,189.1 187.7,189.3 189.8,188.8" stroke="#4f4f4f" stroke-width="3.5"/>
<path d="M110.9,204.5 C110.4,202.4 108.1,196.1 107.7,191.8 C107.2,187.5 107.3,182.9 108.2,178.6 C109.1,174.4 112.4,168.5 113.2,166.5" stroke="#6b6b6b" stroke-width="5.3"/>
<path d="M235.3,215.7 C233.5,214.5 227.5,211.4 224.2,208.6 C220.9,205.7 219,200 215.4,198.8 C211.8,197.5 204.6,200.7 202.4,201.1" stroke="#484848" stroke-width="4.5"/>
<path d="M224.1,209.6 C225.2,211.5 229.7,216.9 230.8,220.9 C231.9,225 231.4,233.9 230.6,234.1 C229.7,234.2 226.4,224 225.6,221.9" stroke="#717171" stroke-width="4.9"/>
<path d="M135.8,194.8 C135.1,196.9 132.9,203.1 131.7,207.3 C130.5,211.5 131.5,217.6 128.8,220.1 C126.2,222.7 118,222.1 115.9,222.5" stroke="#444444" stroke-width="3.6"/>
<path d="M190.1,191.1 C188,191.7 181.3,192.6 177.3,194.3 C173.4,196.1 170.2,199.5 166.4,201.6 C162.5,203.7 158.5,205.5 154.3,206.9 C150.1,208.2 144.6,207.2 141.4,209.6 C138.2,212 136.2,219.2 135.1,221.2" stroke="#6f6f6f" stroke-width="5.6"/>
<path d="M225.4,180.8 C225.4,183 226.1,189.6 225.4,193.9 C224.7,198.2 221.9,202.1 221.2,206.4 C220.5,210.6 220.2,215.4 221.3,219.5 C222.4,223.6 226.8,229 228,230.8" stroke="#6d6d6d" stroke-width="5.9"/>
<path d="M230.9,215 C229.2,216.3 224,220.4 220.5,223 C217,225.6 213.7,228.8 209.9,230.8 C206,232.8 201.1,232.8 197.3,234.8 C193.5,236.9 188.7,241.6 187,243" stroke="#535353" stroke-width="5.2"/>
<path d="M134.5,241.5 C133.5,243.4 127.4,251.6 128.5,253.2 C129.7,254.8 137.6,250.3 141.6,251.2 C145.6,252 150.3,259.4 152.6,258.4 C154.8,257.5 154.8,247.7 155.3,245.6" stroke="#484848" stroke-width="4"/>
<path d="M170.9,249.3 C168.9,250.2 159.6,255.6 158.9,254.8 C158.3,254 166,248.3 167.1,244.4 C168.1,240.5 167.7,234.4 165.4,231.4 C163,228.4 155.2,227.2 153.2,226.3" stroke="#4e4e4e" stroke-width="4.4"/>
<path d="M111.8,158.8 C112.2,156.6 114.7,149.8 113.9,145.8 C113,141.8 106.8,138.7 106.5,134.9 C106.2,131 109.8,126.7 112,122.9 C114.2,119.2 118.5,114.1 119.8,112.3" stroke="#505050" stroke-width="4.4"/>
<path d="M92.9,179.6 C93.9,177.7 99.3,171.9 99.3,168.1 C99.3,164.3 94.9,160.5 92.6,156.8 C90.4,153 85.9,149.5 85.6,145.7 C85.2,141.8 90.1,137.7 90.6,133.5 C91.1,129.3 89,122.7 88.7,120.5" stroke="#3e3e3e" stroke-width="4.3"/>
<path d="M70.7,144.7 C68.5,144.3 62.1,142.7 57.7,142.1 C53.4,141.5 47.9,143.2 44.6,141.1 C41.2,139.1 38.8,131.8 37.6,130" stroke="#585858" stroke-width="4.3"/>
<path d="M65.9,143.4 C67.7,144.6 73,150.5 76.8,150.8 C80.6,151.2 84.8,145.7 88.9,145.6 C93,145.4 99.3,149.1 101.3,149.9" stroke="#4f4f4f" stroke-width="6.1"/>
<path d="M200.5,80.4 C198.6,79.2 191.2,76.7 189.3,73.3 C187.5,69.9 190.9,64.1 189.5,60.2 C188.1,56.3 182.6,51.6 181.2,49.9" stroke="#666666" stroke-width="4.5"/>
<path d="M238,105.7 C235.9,105 228.4,104.1 225.6,101.3 C222.7,98.5 221,93.1 221,89 C221,84.9 226.1,80.5 225.6,76.7 C225,72.9 219,67.9 217.7,66.1" stroke="#686868" stroke-width="5.3"/>
<path d="M262.8,105.1 C262.7,107.3 261.4,114 262.1,118.2 C262.8,122.4 266.1,126.2 267,130.4 C267.8,134.6 267.1,141.3 267.1,143.5" stroke="#545454" stroke-width="4.4"/>
<path d="M242.5,155.9 C244.6,156.3 251.6,159.1 255.5,158 C259.3,156.9 261.7,151.1 265.6,149.6 C269.5,148 276.6,148.9 278.7,148.8" stroke="#6a6a6a" stroke-width="3.8"/>
<path d="M274,84.7 C273.5,85.7 272.7,89.1 271,90.7 C269.2,92.3 266.1,93.7 263.7,94.2 C261.3,94.8 258.2,94.6 256.4,94.1 C254.7,93.7 253.4,92.4 253.4,91.5 C253.4,90.6 254.7,89.3 256.4,88.9 C258.2,88.4 261.3,88.2 263.7,88.8 C266.1,89.3 269.2,90.7 271,92.3 C272.7,93.9 274,96.3 274,98.3 C274,100.3 272.7,102.8 271,104.3 C269.2,105.9 266.1,107.3 263.7,107.8 C261.3,108.4 258.2,108.2 256.4,107.8 C254.7,107.3 253.4,106 253.4,105.1 C253.4,104.2 254.7,102.9 256.4,102.5 C258.2,102 261.3,101.8 263.7,102.4 C266.1,103 269.2,104.3 271,105.9 C272.7,107.5 274,109.9 274,111.9 C274,113.9 272.7,116.4 271,118 C269.2,119.6 266.1,120.9 263.7,121.5 C261.3,122 258.2,121.8 256.4,121.4 C254.7,120.9 253.4,119.6 253.4,118.7 C253.4,117.9 254.7,116.6 256.4,116.1 C258.2,115.7 261.3,115.5 263.7,116 C266.1,116.6 269.2,117.9 271,119.5 C272.7,121.1 273.5,124.6 274,125.6" stroke="#636363" stroke-width="3.5"/>
<path d="M260.8,157.7 C260.3,158.6 259.7,161.8 258.2,163.3 C256.7,164.9 254.1,166.2 252,166.8 C249.9,167.5 247.2,167.5 245.8,167.2 C244.3,167 243.2,166.1 243.2,165.5 C243.2,164.9 244.3,163.9 245.8,163.7 C247.2,163.5 249.9,163.5 252,164.1 C254.1,164.8 256.7,166.1 258.2,167.6 C259.7,169.1 260.8,171.4 260.8,173.3 C260.8,175.1 259.7,177.4 258.2,178.9 C256.7,180.4 254.1,181.8 252,182.4 C249.9,183.1 247.2,183 245.8,182.8 C244.3,182.6 243.2,181.6 243.2,181 C243.2,180.5 244.3,179.5 245.8,179.3 C247.2,179 249.9,179 252,179.7 C254.1,180.3 256.7,181.6 258.2,183.2 C259.7,184.7 260.8,186.9 260.8,188.8 C260.8,190.7 259.7,193 258.2,194.5 C256.7,196 254.1,197.3 252,198 C249.9,198.6 247.2,198.6 245.8,198.4 C244.3,198.2 243.2,197.2 243.2,196.6 C243.2,196 244.3,195.1 245.8,194.8 C247.2,194.6 249.9,194.6 252,195.3 C254.1,195.9 256.7,197.2 258.2,198.7 C259.7,200.3 260.3,203.5 260.8,204.4" stroke="#6e6e6e" stroke-width="3"/>
<path d="M102.6,224.8 C103.6,224.4 107,223.7 108.7,222.3 C110.4,220.8 111.9,218.1 112.7,216.1 C113.5,214 113.7,211.3 113.6,209.9 C113.5,208.4 112.7,207.3 112.3,207.3 C111.9,207.3 111.1,208.4 111,209.9 C111,211.3 111.1,214 111.9,216.1 C112.7,218.1 114.2,220.8 115.9,222.3 C117.6,223.7 120,224.8 122.1,224.8 C124.1,224.8 126.6,223.7 128.3,222.3 C129.9,220.8 131.4,218.1 132.2,216.1 C133.1,214 133.2,211.3 133.1,209.9 C133.1,208.4 132.3,207.3 131.9,207.3 C131.4,207.3 130.6,208.4 130.6,209.9 C130.5,211.3 130.6,214 131.5,216.1 C132.3,218.1 133.8,220.8 135.4,222.3 C137.1,223.7 139.6,224.8 141.6,224.8 C143.7,224.8 146.1,223.7 147.8,222.3 C149.5,220.8 151,218.1 151.8,216.1 C152.6,214 152.7,211.3 152.7,209.9 C152.6,208.4 151.8,207.3 151.4,207.3 C151,207.3 150.2,208.4 150.1,209.9 C150,211.3 150.2,214 151,216.1 C151.8,218.1 153.3,220.8 155,222.3 C156.7,223.7 159.1,224.8 161.2,224.8 C163.2,224.8 165.6,223.7 167.3,222.3 C169,220.8 170.5,218.1 171.3,216.1 C172.1,214 172.3,211.3 172.2,209.9 C172.1,208.4 171.3,207.3 170.9,207.3 C170.5,207.3 169.7,208.4 169.6,209.9 C169.6,211.3 169.7,214 170.5,216.1 C171.3,218.1 172.8,220.8 174.5,222.3 C176.2,223.7 178.6,224.8 180.7,224.8 C182.7,224.8 185.2,223.7 186.9,222.3 C188.5,220.8 190,218.1 190.8,216.1 C191.7,214 191.8,211.3 191.7,209.9 C191.7,208.4 190.9,207.3 190.5,207.3 C190,207.3 189.2,208.4 189.2,209.9 C189.1,211.3 189.2,214 190.1,216.1 C190.9,218.1 192.4,220.8 194,222.3 C195.7,223.7 198.2,224.8 200.2,224.8 C202.3,224.8 204.7,223.7 206.4,222.3 C208.1,220.8 209.6,218.1 210.4,216.1 C211.2,214 211.3,211.3 211.3,209.9 C211.2,208.4 210.4,207.3 210,207.3 C209.6,207.3 208.8,208.4 208.7,209.9 C208.6,211.3 208.8,214 209.6,216.1 C210.4,218.1 211.9,220.8 213.6,222.3 C215.3,223.7 218.7,224.4 219.8,224.8" stroke="#5f5f5f" stroke-width="3.2"/>
<path d="M150.9,46.7 C150.4,47.7 149.6,51 147.9,52.5 C146.2,54 143.1,55.3 140.6,55.8 C138.2,56.3 135.1,56 133.4,55.4 C131.7,54.9 130.4,53.5 130.4,52.6 C130.4,51.6 131.7,50.2 133.4,49.7 C135.1,49.1 138.2,48.9 140.6,49.3 C143.1,49.8 146.2,51.1 147.9,52.6 C149.6,54.1 150.9,56.5 150.9,58.4 C150.9,60.3 149.6,62.7 147.9,64.2 C146.2,65.7 143.1,67 140.6,67.5 C138.2,67.9 135.1,67.7 133.4,67.1 C131.7,66.6 130.4,65.2 130.4,64.2 C130.4,63.3 131.7,61.9 133.4,61.4 C135.1,60.8 138.2,60.5 140.6,61 C143.1,61.5 146.2,62.8 147.9,64.3 C149.6,65.8 150.9,68.1 150.9,70.1 C150.9,72 149.6,74.4 147.9,75.9 C146.2,77.4 143.1,78.6 140.6,79.1 C138.2,79.6 135.1,79.3 133.4,78.8 C131.7,78.3 130.4,76.9 130.4,75.9 C130.4,75 131.7,73.6 133.4,73 C135.1,72.5 138.2,72.2 140.6,72.7 C143.1,73.2 146.2,74.5 147.9,76 C149.6,77.5 150.4,80.8 150.9,81.8" stroke="#434343" stroke-width="4.5"/></g><circle cx="79" cy="264" r="9" fill="#4a4a4a"/><circle cx="69" cy="285" r="9" fill="#555"/><circle cx="61" cy="305" r="9" fill="#555"/><circle cx="66" cy="322" r="9" fill="#555"/><circle cx="76" cy="337" r="9" fill="#4a4a4a"/><circle cx="231" cy="38" r="9" fill="#555"/></g><g id="pcol"><g fill="none" stroke-linecap="round" stroke-linejoin="round"><path d="M94.9,44 C95.7,42.9 96.6,40.1 99.6,37.2 C102.5,34.4 110.8,30.1 112.7,27.1 C114.7,24 112.3,21.8 111.3,19 C110.3,16.2 107.2,10.5 106.8,10.4 C106.4,10.2 108.7,16.7 109,17.9" stroke="#3656d8" stroke-width="1.6"/>
<path d="M184.8,170.2 C187.7,170.2 199.6,172.8 202.1,170.2 C204.6,167.5 201.2,157.8 199.6,154.3 C198,150.8 194.8,148.8 192.4,149.2 C190,149.7 188,156.2 185.4,157 C182.8,157.7 180,155.7 176.8,153.7 C173.6,151.8 169.9,146.9 166,145.1 C162,143.3 155.5,141.8 153.3,142.7 C151,143.6 150.6,148 152.5,150.5 C154.4,153.1 162.6,156.8 164.7,158" stroke="#50aad7" stroke-width="1.4"/>
<path d="M171.6,132.3 C170.1,133.1 166.5,135.8 163,137 C159.4,138.3 153.5,141.6 150.5,139.8 C147.6,138 148.8,129.4 145.3,126 C141.7,122.6 132.9,118.7 129.3,119.3 C125.6,119.8 125.9,127.5 123.5,129.3 C121.1,131.1 116.1,129.8 114.6,130" stroke="#3656d8" stroke-width="1.5"/>
<path d="M195.8,223.3 C194,223.5 189.3,224.2 185,224.9 C180.6,225.5 171.9,225.6 169.7,227.3 C167.5,229.1 169.1,233 171.6,235.4 C174,237.8 181.4,243.1 184.5,241.9 C187.6,240.7 189.9,232.6 190.1,228.2 C190.3,223.8 185.7,219.7 185.7,215.7 C185.6,211.8 189.1,206.5 189.8,204.6" stroke="#e46c38" stroke-width="1.7"/>
<path d="M104.2,178.4 C103.3,177.2 102,172.5 99.3,171.2 C96.6,170 90.1,172.4 88,171 C85.9,169.6 87.8,166.3 86.9,163 C86,159.6 81,153.9 82.6,150.7 C84.3,147.6 93.5,143.7 96.8,144 C100.2,144.2 101.9,150.8 102.9,152.2" stroke="#6bd548" stroke-width="1.4"/>
<path d="M68,68.1 C67.5,69.8 63.8,75.3 65.2,77.9 C66.7,80.6 73.6,81.6 76.5,84 C79.5,86.4 79.6,92.3 83,92.3 C86.4,92.4 93.9,83.6 97.1,84.5 C100.3,85.3 102.4,93.6 102.2,97.5 C102,101.4 99.7,107.1 96,107.8 C92.4,108.4 83.8,104.4 80.1,101.5 C76.4,98.5 76.3,93.2 73.8,90.1 C71.3,87 66.4,84.2 64.9,83" stroke="#6bd548" stroke-width="1.5"/>
<path d="M129.1,32.1 C128.7,33.5 125.2,38.5 126.4,40.5 C127.7,42.6 134.7,46.5 136.8,44.4 C138.9,42.4 137.7,32.3 138.9,28.3 C140,24.4 143.5,23.8 143.6,20.9 C143.7,17.9 140.2,12.5 139.6,10.8" stroke="#3656d8" stroke-width="1.4"/>
<path d="M136.5,141.3 C136.7,143.7 137.2,151.3 137.8,156.1 C138.4,160.9 139.6,166.4 140.1,170.3 C140.7,174.2 142.7,178.2 141.1,179.6 C139.4,181.1 133.9,181.1 130,179.1 C126.2,177.1 120,169.5 118,167.6" stroke="#e1db46" stroke-width="1.8"/>
<path d="M188.4,26.6 C188.5,25.1 187.2,20 189.2,17.6 C191.3,15.2 197.4,12 200.8,12.1 C204.1,12.2 210.4,16.2 209.5,18.3 C208.6,20.4 198.1,26.4 195.3,24.9 C192.5,23.4 195.3,10.3 192.7,9.1 C190,7.9 183.2,16.7 179.5,17.6 C175.8,18.4 173.6,15.6 170.4,14.4 C167.2,13.1 162.2,9.5 160.3,10 C158.4,10.6 159.1,16.3 158.9,17.5" stroke="#3bd2b4" stroke-width="1.3"/>
<path d="M106.8,64.4 C108.3,65.8 115.9,70.7 115.3,73.2 C114.7,75.8 103.3,76.6 103.3,79.6 C103.3,82.5 111.1,88.7 115.4,91 C119.7,93.3 126.6,91.5 129.1,93.3 C131.6,95.1 128.8,98.3 130.2,101.8 C131.7,105.2 136.7,112.1 138,114.2" stroke="#3656d8" stroke-width="1.2"/>
<path d="M127.1,185.7 C129,185.9 137.2,184.7 138.5,187.4 C139.7,190 133.9,198.4 134.4,201.5 C134.9,204.7 138.3,207.4 141.6,206.3 C144.8,205.3 150.5,196.5 153.9,195.3 C157.3,194 160.9,195.4 161.9,198.9 C163,202.4 161.6,211.9 160.2,216.2 C158.7,220.4 155.4,222.2 153.1,224.5 C150.8,226.8 145.2,227.4 146.4,230 C147.7,232.5 157.4,236.2 160.6,239.8 C163.8,243.4 164.7,249.6 165.5,251.5" stroke="#e46c38" stroke-width="1.9"/>
<path d="M61.8,73.5 C60.1,74.1 50.7,76.5 51.6,76.7 C52.6,76.8 65.3,77.4 67.4,74.6 C69.4,71.9 62.3,63.2 64,60.1 C65.7,57.1 74,55.2 77.6,56.1 C81.1,57.1 85.5,62.2 85.3,66.1 C85.1,70 77.8,77.4 76.3,79.7" stroke="#6bd548" stroke-width="1.1"/>
<path d="M149.6,254.9 C147,255.2 136.4,258.7 134.2,257.1 C132,255.5 134.2,248.3 136.4,245.2 C138.6,242.1 145,241.6 147.6,238.5 C150.2,235.5 150,230.9 152.2,226.8 C154.4,222.7 161,217.5 160.7,214 C160.3,210.6 153.7,206.9 150.3,206.1 C147,205.2 143.8,209.9 140.6,209 C137.4,208.1 134.3,204.1 131.3,200.7 C128.3,197.2 124.2,190.3 122.8,188.2" stroke="#e46c38" stroke-width="1.9"/>
<path d="M179.5,147.6 C178,149.1 173.9,155.7 170.5,156.3 C167,157 162.6,151.2 158.9,151.5 C155.2,151.8 151.8,159.2 148.2,158.2 C144.6,157.2 136.9,149.2 137.3,145.4 C137.6,141.6 148.5,138.9 150.2,135.2 C151.9,131.6 149,127.2 147.5,123.7 C146.1,120.1 144.9,116.4 141.7,114 C138.5,111.6 132,110.3 128.2,109.4 C124.4,108.6 121.4,108.1 118.7,108.9 C116.1,109.7 113.2,113.5 112.1,114.4" stroke="#50aad7" stroke-width="1.8"/>
<path d="M188.5,106.9 C187,106.6 180.1,106.9 179.2,104.8 C178.3,102.7 181.7,98.7 183.4,94.2 C185,89.7 186.5,80.4 189,77.7 C191.4,75 194.4,78.3 197.9,77.9 C201.5,77.4 207.1,76.5 210.2,74.9 C213.2,73.2 215.3,69 216.3,67.9" stroke="#3bd2b4" stroke-width="1.3"/>
<path d="M129.1,5.3 C129.8,8 130.1,19.5 133.6,21.8 C137.1,24.1 146.3,22 150.1,19 C153.8,16.1 153.5,5.8 156,3.9 C158.6,2 164.4,5.5 165.5,7.5 C166.5,9.5 165.5,14 162.5,16.1 C159.4,18.3 150.9,21.6 147.3,20.2 C143.6,18.8 139.7,10.6 140.4,7.8 C141,5 147.2,4.7 151,3.5 C154.8,2.3 161.2,1 163.3,0.5" stroke="#3656d8" stroke-width="1.5"/>
<path d="M81.8,233.5 C83,233.8 87.3,236.8 89,235.5 C90.6,234.2 90.3,228.8 91.8,225.9 C93.2,223.1 97.2,221.2 97.9,218.6 C98.6,215.9 99,210.2 96.2,210.2 C93.3,210.2 83.3,217 80.7,218.4" stroke="#d89c36" stroke-width="1.4"/>
<path d="M182.2,12.6 C183.8,12.5 191.4,9.6 192.2,12.2 C193,14.8 189.3,24.1 186.9,28.2 C184.5,32.3 178.6,33.6 177.7,37 C176.8,40.3 181.3,44.8 181.3,48.3 C181.4,51.7 178.5,56.2 177.9,57.8" stroke="#3bd2b4" stroke-width="1.8"/>
<path d="M150.7,71.7 C149.4,70.2 146.1,66.2 143.2,62.7 C140.2,59.2 136.4,53.6 132.8,50.7 C129.2,47.8 124.6,48.8 121.6,45.2 C118.5,41.7 118.1,33.4 114.7,29.3 C111.4,25.2 103.1,19.9 101.4,20.8 C99.6,21.6 102.9,30.5 104.3,34.2 C105.8,38 108.2,42.8 110.3,43.3 C112.4,43.9 117.5,40.5 116.9,37.8 C116.3,35.1 109.8,28.6 106.6,27 C103.4,25.4 99.2,27.9 97.7,28.1" stroke="#3656d8" stroke-width="1.1"/>
<path d="M255.1,195.8 C254,196.6 249.4,198 248.8,200.4 C248.2,202.8 249.5,209.5 251.4,210.1 C253.4,210.7 258.2,207.8 260.7,204.1 C263.2,200.4 266,191.7 266.5,187.7 C267.1,183.8 263,182.4 264.1,180.5 C265.1,178.6 271.3,177.1 272.7,176.4" stroke="#3bd2b4" stroke-width="1.2"/>
<path d="M192.2,72.5 C191.3,71.4 188.8,67.9 186.7,66.4 C184.6,64.8 181.3,61.8 179.8,62.9 C178.2,64.1 176.3,69.9 177.5,73.1 C178.8,76.3 183.9,78.9 187.1,82.4 C190.3,85.8 195.1,92 196.7,93.9" stroke="#3bd2b4" stroke-width="1.7"/>
<path d="M257.6,113.7 C259.4,115.3 266.4,120.6 268.7,123.4 C270.9,126.2 272.9,128 271.1,130.8 C269.2,133.6 262.2,138.3 257.5,140.1 C252.8,142 245.9,142.9 242.8,141.9 C239.6,141 240.1,137.5 238.5,134.3 C237,131.1 232.4,126.5 233.5,122.9 C234.6,119.3 241.4,113.3 245.2,112.7 C249.1,112.2 254.8,118.3 256.8,119.4" stroke="#3bd2b4" stroke-width="1.9"/>
<path d="M203.1,67.1 C205.3,69 212,76 216.1,78.4 C220.2,80.7 225.6,82.1 227.7,81.3 C229.7,80.6 228,76.7 228.5,73.9 C229,71 231.6,67.5 230.8,64.3 C229.9,61.2 226.7,54.6 223.3,54.9 C220,55.2 212.8,64.3 210.7,66.1" stroke="#3bd2b4" stroke-width="1.9"/>
<path d="M154.1,217.8 C153.5,216.3 150,211.7 150.1,208.9 C150.3,206.1 152.6,202.9 155.3,200.7 C157.9,198.5 163.4,195.3 166.1,195.5 C168.8,195.7 171.8,199.5 171.4,201.7 C171,203.8 164.9,207.3 163.6,208.4" stroke="#e46c38" stroke-width="1"/>
<path d="M58.1,175.1 C56.4,175.3 50.7,176.4 47.7,176.5 C44.8,176.6 41.6,174 40.3,175.6 C39.1,177.1 41.6,182.1 40.1,185.6 C38.5,189.1 34.2,194.5 31,196.8 C27.8,199 20.7,199 21,199.1 C21.3,199.1 29.6,197.9 32.9,197.1 C36.3,196.4 39.2,193.7 41.1,194.7 C43,195.8 46.7,201.7 44.4,203.4 C42.2,205.2 29.7,203.2 27.6,205.4 C25.6,207.6 31.3,214.7 32.1,216.6" stroke="#d89c36" stroke-width="1.8"/>
<path d="M131.7,78.4 C133,78 136.9,75.4 139.6,76 C142.2,76.6 144,80.8 147.6,82 C151.2,83.2 157.4,82.3 161,83.5 C164.7,84.7 166.8,89.7 169.4,89.3 C172,88.9 173.6,84.4 176.6,80.9 C179.5,77.4 185.3,70.5 187.1,68.5" stroke="#db2332" stroke-width="1.4"/>
<path d="M278.3,199 C277.7,197.4 277.3,191.9 274.2,189 C271.2,186.1 262.9,180.4 260.1,181.6 C257.4,182.9 259.5,193.8 257.7,196.4 C255.9,199.1 250.8,199.7 249.2,197.5 C247.6,195.2 246.6,185.5 248.2,182.9 C249.7,180.3 255.1,183 258.4,181.7 C261.6,180.4 265.6,174.2 267.7,175.3 C269.9,176.4 269.4,184.6 271.4,188.1 C273.4,191.6 279.8,194.7 279.9,196.2 C280,197.6 273.4,196.8 272.1,196.9" stroke="#3bd2b4" stroke-width="1.1"/>
<path d="M73.1,77.6 C71.9,75.3 68.2,67.1 66.2,63.9 C64.2,60.7 61.4,61 61,58.3 C60.7,55.5 61.3,48.8 63.9,47.3 C66.6,45.7 74,49.6 76.9,48.7 C79.7,47.8 78.9,41.8 81.2,41.8 C83.4,41.8 88.9,47.5 90.5,48.6" stroke="#6bd548" stroke-width="1.6"/>
<path d="M254.8,141.8 C254,139.9 252.3,133.4 250,130.6 C247.8,127.8 243,128.8 241.3,125 C239.6,121.2 242.1,111.9 239.9,107.7 C237.7,103.6 232.2,101 228.1,100.1 C224,99.3 218.6,101.3 215.3,102.5 C211.9,103.7 208.5,105.1 207.7,107.5 C206.9,109.8 212,114.3 210.5,116.5 C209,118.6 201.2,117.1 198.7,120.4 C196.3,123.8 196.2,134 195.7,136.7" stroke="#3bd2b4" stroke-width="2"/>
<path d="M75.7,166.3 C77.1,167.5 83,170.8 84.3,173.6 C85.6,176.3 82,179.7 83.7,183 C85.4,186.3 91.2,190.1 94.6,193.3 C98,196.5 100.3,200.3 104.2,202.3 C108.2,204.4 113.5,204.1 118.2,205.5 C123,206.9 130.5,208.3 132.8,210.5 C135.1,212.7 134.1,217.4 132.1,218.7 C130.1,220.1 124.3,219.6 120.8,218.5 C117.3,217.3 115.2,212.8 111,212.1 C106.8,211.3 98,213.8 95.5,214.2" stroke="#e1db46" stroke-width="2"/>
<path d="M124.6,223 C125,221.7 124,215.6 127,215.3 C130,215 138.3,219.4 142.7,221.3 C147.1,223.2 149.3,225.2 153.5,226.8 C157.8,228.4 164.8,231.4 168.3,231 C171.8,230.7 172.9,224.7 174.6,224.9 C176.4,225 179.9,229 179.1,232 C178.3,235.1 173.9,242.5 169.8,243.2 C165.8,243.9 158.4,235.1 154.9,236.3 C151.3,237.5 149.6,247.9 148.5,250.2" stroke="#e46c38" stroke-width="1"/>
<path d="M166.8,11 C166.3,13 164.1,18.7 163.5,23.2 C162.9,27.8 161.5,35.7 163.2,38.3 C164.9,41 172.1,37.5 173.6,39.1 C175,40.7 170.4,44.8 171.9,48.2 C173.3,51.6 179.3,59.7 182.1,59.7 C184.8,59.8 187.4,50.5 188.5,48.7" stroke="#db2332" stroke-width="2"/>
<path d="M92.7,245.1 C94.1,245.9 98.3,251 101.3,249.9 C104.3,248.9 109.1,241.9 110.6,238.8 C112.1,235.7 110.5,234.9 110.3,231.3 C110.2,227.7 110.3,221 109.7,217.1 C109,213.2 106.1,212 106.3,207.8 C106.5,203.5 111.1,195.3 111.1,191.7 C111,188.1 108.6,187.4 105.8,186.1 C103.1,184.8 97.3,185.4 94.4,183.7 C91.6,182.1 89.6,177.7 88.6,176.4" stroke="#d89c36" stroke-width="1.8"/>
<path d="M147.9,59.9 C149,61.1 151.9,64.5 154.3,66.7 C156.6,68.9 161.5,70.9 162,73.1 C162.5,75.3 160.1,77.8 157.3,80 C154.5,82.3 148.5,87.2 145.4,86.6 C142.3,85.9 138.8,78.7 138.8,76.2 C138.8,73.8 141.6,73.3 145.4,71.9 C149.2,70.6 159,68.9 161.8,68.3" stroke="#3656d8" stroke-width="1.1"/>
<path d="M174.7,121.3 C173,119.1 164.5,112.1 164.6,108.2 C164.6,104.4 172.2,97.1 175.2,97.9 C178.2,98.8 180,109.9 182.6,113.1 C185.2,116.3 190.7,114.5 190.8,117.3 C190.8,120.1 182,127 182.9,129.9 C183.8,132.8 193.9,133.9 196.2,134.7" stroke="#3656d8" stroke-width="1.4"/>
<path d="M97.2,49.4 C97.2,47.5 95,40 97.1,37.8 C99.3,35.7 106.8,35.2 110.1,36.4 C113.5,37.6 116.7,41.9 117.4,44.9 C118,48 116,53.1 114,54.9 C112.1,56.6 108.4,56.5 105.8,55.6 C103.3,54.8 101.1,52.2 98.6,49.7 C96.1,47.3 92,42.3 90.7,40.9" stroke="#3656d8" stroke-width="1.3"/>
<path d="M139,184.4 C138,185.1 132.7,187 132.5,188.6 C132.4,190.3 138.4,192.3 138,194.3 C137.7,196.4 134.6,200.5 130.7,201 C126.8,201.6 118.7,197.6 114.5,197.8 C110.2,197.9 107.3,203.4 105.2,201.8 C103.1,200.3 104.7,191.8 101.9,188.6 C99.1,185.4 92.4,183.2 88.5,182.6 C84.7,182.1 79,182.8 78.8,185.4 C78.5,187.9 87.7,194.5 87.1,197.9 C86.6,201.2 77.5,204.1 75.6,205.4" stroke="#e1db46" stroke-width="1.9"/>
<path d="M68.5,138.8 C70.4,140.8 78.6,147.7 79.8,151 C81,154.4 77.1,156.4 76,158.8 C74.8,161.2 74.9,165.2 72.8,165.5 C70.8,165.8 65.7,162.7 63.7,160.4 C61.7,158.2 63.9,154.1 60.8,152 C57.7,150 50.3,149.1 45.1,148.3 C39.9,147.4 30.5,146.2 29.8,146.9 C29.1,147.6 39.2,151.5 41.1,152.4" stroke="#6bd548" stroke-width="1.4"/>
<path d="M119.5,189.7 C117.4,191.7 111.4,201.6 107.1,201.8 C102.8,202 97.1,192.4 93.5,190.9 C89.9,189.3 86.5,190.3 85.5,192.6 C84.5,194.9 88.5,201.2 87.7,204.8 C86.9,208.4 81.2,211.1 80.8,214.5 C80.3,217.8 84.6,221 85.2,225.2 C85.7,229.3 82.1,238.4 84.2,239.3 C86.3,240.3 94.1,232.1 97.8,230.8 C101.4,229.5 104.9,231.3 106.3,231.4" stroke="#d89c36" stroke-width="1.8"/>
<path d="M166.1,108.9 C165.6,107.4 165.4,102 163.3,100.1 C161.2,98.2 154.7,99.4 153.5,97.5 C152.2,95.6 156.9,90.3 155.6,88.6 C154.4,86.8 148.9,85.7 145.9,87 C142.8,88.3 139.9,94.3 137.1,96.2 C134.3,98.1 130.3,97.9 129,98.2" stroke="#3656d8" stroke-width="1.5"/>
<path d="M67.7,130.9 C68,132.2 69.6,134.6 69.6,138.5 C69.5,142.4 66.5,150.8 67.3,154.1 C68,157.4 71.7,156.8 74.2,158.3 C76.6,159.9 79,160.5 81.7,163.5 C84.3,166.5 88.7,172.9 90,176.3 C91.4,179.6 91,180.3 89.7,183.6 C88.3,186.9 83.1,193.8 81.8,195.9" stroke="#6bd548" stroke-width="1.3"/>
<path d="M99.6,12.9 C101.8,13.8 109.6,18 112.6,18 C115.7,18 117.6,11.5 118.1,13 C118.6,14.5 114.6,23.8 115.8,27 C116.9,30.3 121.1,32.9 124.8,32.4 C128.4,31.9 135.5,25.3 137.7,23.8" stroke="#3656d8" stroke-width="1.5"/>
<path d="M161.2,186.6 C162.8,186.9 170.5,186.1 171.1,188.5 C171.7,190.9 166,197.7 164.7,201.1 C163.5,204.5 166.1,206.3 163.5,208.8 C160.9,211.4 152.3,214.2 149,216.4 C145.7,218.6 147.2,221.4 143.8,221.8 C140.4,222.2 131.1,219.2 128.6,218.6" stroke="#e46c38" stroke-width="1.6"/>
<path d="M127.2,45.7 C129.8,46.7 138.5,50.2 142.6,51.4 C146.6,52.7 150,55.1 151.4,53.3 C152.7,51.4 149.4,45 150.5,40.4 C151.6,35.7 158.8,29.1 158.1,25.6 C157.3,22.1 147.9,20.3 145.9,19.3" stroke="#3656d8" stroke-width="1.4"/>
<path d="M31.9,143.2 C32.9,145.7 34.8,156.9 38.2,157.8 C41.6,158.7 49.2,152.4 52.2,148.8 C55.2,145.1 54.5,138.9 56.1,135.8 C57.8,132.7 58.7,131 62.1,130.2 C65.5,129.4 74,128.4 76.5,130.9 C78.9,133.3 76.9,142.4 77,144.7" stroke="#6bd548" stroke-width="1.9"/>
<path d="M180.1,57.3 C179.5,59.1 177.8,64.5 176.4,68 C175.1,71.6 171.4,75.8 172.1,78.4 C172.7,80.9 178.6,79.9 180.5,83.4 C182.4,86.9 180.9,97.7 183.5,99.6 C186,101.6 192.7,95.1 195.8,95.1 C198.9,95.1 201.5,97.5 202,99.6 C202.6,101.7 201.1,104.7 199.2,107.6 C197.3,110.6 193.7,115.1 190.7,117.3 C187.6,119.6 182.5,120.5 180.9,121.1" stroke="#3bd2b4" stroke-width="1.4"/>
<path d="M124.7,192.4 C124.7,193.6 126.6,199.1 124.6,199.7 C122.7,200.4 117.2,197 113,196.2 C108.8,195.5 102.4,197.8 99.4,195 C96.5,192.3 94.4,183.4 95.2,179.7 C96,176 104,175.3 104.2,172.8 C104.5,170.2 100.6,166.8 96.9,164.6 C93.2,162.4 86.8,161.3 82.1,159.7 C77.5,158 71.1,155.7 68.9,155" stroke="#d3986d" stroke-width="1"/>
<path d="M211.1,23.4 C209.6,25.5 202.7,33.5 202.5,36 C202.3,38.6 207,36.7 210,38.9 C212.9,41.1 217.3,48.4 220.1,49.2 C222.9,49.9 224.4,43.4 226.8,43.7 C229.1,43.9 233.8,47.3 234.1,50.9 C234.3,54.4 231.4,61.6 228.2,65.1 C225.1,68.6 217.4,68.1 215.1,71.8 C212.8,75.6 214.6,85 214.5,87.6" stroke="#3bd2b4" stroke-width="1.6"/>
<path d="M94.9,179.2 C94.1,177.2 89.5,170.1 90.3,167.6 C91,165.1 97,166.8 99.1,164.3 C101.2,161.8 102.8,155.6 103,152.5 C103.2,149.3 102.2,146.5 100.2,145.3 C98.2,144.1 92.5,147.8 91.2,145.4 C89.9,143.1 90.6,133.6 92.3,131.2 C94,128.9 99.2,130 101.4,131.3 C103.5,132.6 104.6,137.6 105.3,138.8" stroke="#6bd548" stroke-width="1.5"/>
<path d="M162.7,169.4 C162.4,167.3 159.1,159.6 161.3,156.7 C163.4,153.8 171.7,154.1 175.4,151.9 C179,149.8 181.4,146.6 183.1,143.8 C184.7,141.1 185.4,138 185.3,135.3 C185.2,132.7 182.8,129.1 182.3,127.8" stroke="#50aad7" stroke-width="1.2"/>
<path d="M151.2,90.5 C151.6,93.2 155,102.2 153.8,106.8 C152.6,111.4 144.9,114.5 143.8,117.9 C142.7,121.4 146.9,124.1 147.1,127.7 C147.4,131.2 145.2,136 145.4,139.1 C145.6,142.2 146.9,143.1 148.2,146.4 C149.6,149.6 151.7,157.4 153.7,158.8 C155.7,160.2 157.6,155.8 160.3,154.6 C163.1,153.3 166.5,152.4 170.3,151.4 C174,150.4 180.7,149 182.7,148.5" stroke="#50aad7" stroke-width="1.4"/>
<path d="M207.3,131.6 C206.7,134.1 204,142.4 203.6,146.5 C203.3,150.6 202.6,155.7 205,156.4 C207.3,157.1 213.8,152 217.7,150.8 C221.6,149.5 224.8,148.4 228.4,148.8 C232.1,149.2 238.8,150.2 239.5,153.1 C240.2,156 234,164.2 232.9,166.4" stroke="#3bd2b4" stroke-width="1.2"/>
<path d="M119,69.4 C119.1,67.3 118.4,58.4 120.1,56.5 C121.7,54.6 125.9,59.7 128.7,58.2 C131.4,56.6 133.8,50.8 136.5,47.1 C139.2,43.5 142,37.5 144.9,36.1 C147.8,34.6 152.2,38.1 153.7,38.4" stroke="#3656d8" stroke-width="1.3"/>
<path d="M229.4,208.9 C230.5,210.6 235.7,215.3 236.2,218.9 C236.7,222.4 234,229.3 232.5,230.2 C230.9,231 229.1,224.7 226.9,223.9 C224.7,223.1 222.3,223.2 219.3,225.2 C216.3,227.2 213.2,233.9 208.8,235.8 C204.4,237.8 196.7,237.7 192.8,236.7 C188.9,235.7 187.8,232.6 185.5,229.8 C183.1,227.1 179.8,221.8 178.7,220.2" stroke="#e46c38" stroke-width="1.8"/>
<path d="M77.7,187.5 C77.3,185.4 78.2,177.6 75,175.3 C71.7,173 61.5,175.6 58.4,173.8 C55.4,172 59.8,166.3 56.7,164.5 C53.7,162.7 43.8,161.6 40.1,163 C36.4,164.3 37.1,170 34.7,172.9 C32.4,175.7 27.5,178.8 26.1,180" stroke="#d3986d" stroke-width="1.9"/>
<path d="M157.2,137.9 C157.1,135.9 155.3,129.5 156.9,126.1 C158.5,122.7 164.9,120.3 166.7,117.3 C168.5,114.2 166.8,110.6 167.7,107.9 C168.5,105.2 170.1,101.4 172,101 C174,100.7 178.2,104.9 179.5,105.7" stroke="#db2332" stroke-width="1"/>
<path d="M185.7,203.5 C188.1,202.8 197.4,202.6 200.2,199.1 C203,195.5 201.4,187.3 202.4,182.2 C203.4,177.1 202.9,170.5 206,168.5 C209.1,166.6 217.3,168.7 220.9,170.5 C224.6,172.3 226.5,178 227.7,179.5" stroke="#3bd2b4" stroke-width="1.2"/>
<path d="M25.6,219.4 C26.7,218.5 29.5,214.6 32.1,214.1 C34.6,213.7 37.8,217.1 41.1,216.8 C44.4,216.5 51.1,214.4 51.8,212.3 C52.6,210.2 49.3,205.9 45.8,204.4 C42.4,202.8 35.3,202.5 31.2,203 C27.2,203.4 23.5,208.5 21.5,207.2 C19.4,205.8 17.2,198 18.8,195 C20.5,192 29.1,190.1 31.2,189.1" stroke="#d89c36" stroke-width="1"/>
<path d="M127.9,225.7 C129.8,226.7 136.9,228.1 139.6,231.6 C142.4,235 143.4,242.4 144.2,246.6 C145,250.9 144.9,257.2 144.3,256.9 C143.8,256.5 143.9,247.9 141.1,244.6 C138.4,241.4 130.9,236.8 128.1,237.3 C125.2,237.7 122.4,244.7 123.9,247.3 C125.4,250 134.7,255.1 137.1,253.2 C139.6,251.4 137.2,241.6 138.6,236.1 C140.1,230.7 143.7,225.2 145.9,220.7 C148.2,216.2 151.2,211 152.3,209.1" stroke="#e46c38" stroke-width="1.2"/>
<path d="M224.7,143.2 C225.8,145.1 228.8,152.1 231.7,155 C234.6,157.8 237.4,159.2 241.8,160.3 C246.2,161.4 255.3,164.2 258.2,161.7 C261.2,159.2 260.9,147.8 259.6,145.4 C258.3,142.9 253.2,144.1 250.3,146.8 C247.3,149.4 244.3,157.1 242,161.1 C239.7,165.1 238.8,169.8 236.4,170.7 C234,171.7 231,168.1 227.5,166.9 C223.9,165.6 217.2,164.1 215.2,163.5" stroke="#3bd2b4" stroke-width="1.8"/>
<path d="M189.4,101.8 C187.5,101.2 181.4,99.6 178,98.1 C174.5,96.7 172.5,94.7 168.7,92.9 C164.9,91.2 158.9,87.7 155.3,87.7 C151.7,87.7 149.3,89.8 147.1,92.7 C144.8,95.7 144.5,102.5 141.7,105.6 C139,108.6 132.3,109.9 130.4,110.8" stroke="#3656d8" stroke-width="1.3"/>
<path d="M242.2,180.3 C243.6,178.5 249.1,173.2 250.7,169.8 C252.3,166.4 249.9,161.3 251.7,160.1 C253.5,159 260.9,159.7 261.3,162.8 C261.7,165.8 253.5,174.5 254.1,178.7 C254.7,182.9 261.6,187 264.7,187.9 C267.8,188.8 271.4,184.8 272.7,184.2" stroke="#3bd2b4" stroke-width="1.1"/>
<path d="M87.1,80 C89.8,79.6 99.5,78.3 103.4,77.6 C107.3,76.8 108.4,74.1 110.5,75.5 C112.7,76.9 112.4,84 116.3,85.8 C120.1,87.5 129.8,86.8 133.6,85.9 C137.5,85.1 138.2,81.6 139.1,80.7" stroke="#3656d8" stroke-width="1.3"/>
<path d="M249.9,204.7 C248.3,204.3 243.3,205.2 240.5,202.4 C237.7,199.5 233,192.3 233,187.9 C233.1,183.4 237.2,176.9 240.8,175.7 C244.3,174.4 250.8,178 254.3,180.3 C257.8,182.6 258.5,187.6 262,189.5 C265.6,191.4 272.9,193.2 275.6,191.7 C278.3,190.1 275.2,182.9 277.9,180.3 C280.7,177.7 291.2,177.1 292,176.1 C292.7,175 285.9,174.3 282.3,174.1 C278.7,174 272.3,175.1 270.3,175.2" stroke="#3bd2b4" stroke-width="1.6"/>
<path d="M53.6,191.1 C56.4,190.7 67.5,190.9 70.1,188.9 C72.8,186.9 71.9,181.7 69.6,179.1 C67.3,176.4 57.6,175.2 56.3,172.8 C54.9,170.5 60.6,169 61.5,165 C62.4,161.1 61.8,153.3 61.6,149.1 C61.4,144.9 60.7,142.6 60.2,139.8 C59.6,137 57.2,135 58.3,132.6 C59.4,130.2 65.4,126.6 66.8,125.4" stroke="#6bd548" stroke-width="1.3"/>
<path d="M53.9,150 C54.1,151.8 53.6,159.5 55.5,160.8 C57.4,162.2 62.7,159.4 65.3,158.2 C67.9,157 69.1,156 71.3,153.7 C73.4,151.4 75.1,146.1 78,144.2 C80.9,142.2 86.1,143.8 88.7,142 C91.2,140.2 89.5,135.4 93.1,133.5 C96.6,131.5 105.4,131.1 109.8,130.4 C114.1,129.8 116.8,128.2 119.3,129.7 C121.8,131.3 122.4,138 124.7,139.6 C127.1,141.3 132,139.5 133.4,139.4" stroke="#6bd548" stroke-width="1.8"/>
<path d="M185.8,137 C185.9,135.5 184.4,131.8 186,128.2 C187.6,124.6 192,117.3 195.5,115.6 C199,113.9 206.2,115.3 206.9,117.8 C207.5,120.4 202.9,127.6 199.5,131 C196,134.4 190.3,135.5 185.9,138.2 C181.6,140.8 175.4,145.5 173.3,146.9" stroke="#3bd2b4" stroke-width="1.2"/>
<path d="M198.9,140.6 C198.4,138.3 198.2,130.5 196.2,126.9 C194.2,123.3 188.9,121.6 186.8,119 C184.7,116.5 182.8,113.4 183.6,111.5 C184.3,109.6 189.5,109.9 191.5,107.5 C193.5,105.1 196.8,99.5 195.4,97 C194,94.5 187.8,92.4 183.1,92.5 C178.4,92.6 169.6,96.9 166.9,97.8" stroke="#3bd2b4" stroke-width="1.5"/>
<path d="M170.7,191.9 C170.1,193.5 166.6,199.1 167.4,201.2 C168.2,203.3 172,205.5 175.5,204.6 C178.9,203.7 185.3,198.6 187.9,195.8 C190.6,193 188.2,188.1 191.2,187.5 C194.1,187 203.3,191.8 205.8,192.6" stroke="#3bd2b4" stroke-width="1.2"/>
<path d="M178.3,228.1 C179.7,225.9 186.8,219.1 187,214.9 C187.2,210.6 181.6,207 179.3,202.8 C176.9,198.5 175.6,193.7 172.7,189.4 C169.9,185 164.9,180.3 162.4,176.7 C159.9,173.1 160,169.4 157.8,167.8 C155.6,166.2 151.9,167.3 149.1,167.1 C146.3,166.9 144,166.6 141.2,166.6 C138.4,166.6 135.9,166.9 132.4,167.2 C128.9,167.5 122.1,168.2 120,168.4" stroke="#e1db46" stroke-width="1.5"/>
<path d="M137.1,164.3 C135.5,163.2 128,160.1 127.3,158.1 C126.6,156.1 129.7,153.8 132.8,152.1 C135.9,150.5 144.9,150.6 146,148 C147,145.3 139.8,141 139.1,136.3 C138.5,131.6 142.8,125 141.9,119.7 C141,114.4 136.1,108.7 133.9,104.3 C131.7,99.9 128.4,95.7 128.7,93.2 C129,90.7 134.3,90.2 135.4,89.6" stroke="#3656d8" stroke-width="1.7"/>
<path d="M107.3,138.6 C105.9,139.7 100.1,142.8 98.7,145.2 C97.3,147.6 97.6,150.5 99,153 C100.4,155.5 104.4,158 107.1,160.4 C109.8,162.7 116.1,164.7 115.2,167.4 C114.3,170 104.6,173.4 101.7,176.4 C98.8,179.3 98.7,183.6 98.1,185" stroke="#e1db46" stroke-width="1.5"/>
<path d="M56.3,208.2 C58.5,206.2 66,200.1 69,196.1 C72,192.1 73.3,188.5 74.3,184.3 C75.3,180.1 75.5,174.7 75.2,171.2 C74.8,167.6 75.3,163.3 72.5,163.2 C69.7,163 62.9,167.8 58.5,170.4 C54,172.9 46.5,175.5 45.7,178.5 C44.8,181.5 51.2,185 53.4,188.3 C55.6,191.5 55.6,197 58.8,198 C62,199 67.8,193.6 72.5,194.2 C77.3,194.7 84.8,200 87.3,201.1" stroke="#d3986d" stroke-width="1.1"/>
<path d="M185.6,182.6 C186.9,182.4 190.3,179.6 193.3,181.7 C196.2,183.7 201.6,190.9 203.3,195 C205.1,199 206.2,203.2 203.9,206 C201.7,208.9 193.8,210.7 189.8,212 C185.8,213.2 182.8,211.8 179.9,213.6 C177.1,215.4 173.9,219.3 172.8,222.8 C171.7,226.3 174.5,230.1 173.2,234.5 C171.9,238.9 164.4,246 165.1,249.2 C165.7,252.5 174.9,254.7 177.3,254.1 C179.6,253.6 178.7,247.2 179,245.8" stroke="#e46c38" stroke-width="1.8"/>
<path d="M269.2,130.4 C271.8,131.6 281.6,135.3 285,137.9 C288.3,140.4 289.7,142.4 289.4,145.6 C289.1,148.8 282.4,154.1 283.1,156.9 C283.9,159.7 293,159.6 293.8,162.6 C294.7,165.7 289.3,171.8 288.2,175.1 C287,178.4 289.3,179.2 287.1,182.4 C284.8,185.7 278.1,193.5 274.7,194.6 C271.3,195.8 268,190.3 266.7,189.4" stroke="#3bd2b4" stroke-width="1.1"/>
<path d="M80.7,166.1 C80.6,167.4 82.4,171.6 80.1,173.9 C77.8,176.3 70.7,181.2 67,180.4 C63.2,179.5 61,169.3 57.7,168.8 C54.4,168.4 50.8,176.3 47.1,177.5 C43.3,178.8 36.8,178 35.1,176.2 C33.4,174.4 34.3,167.2 36.9,166.5 C39.5,165.7 48.1,172.2 50.5,171.8 C52.9,171.5 49.5,167.7 51.2,164.4 C52.9,161.1 60.7,155.2 60.9,152.1 C61.1,149 53.8,146.9 52.4,145.9" stroke="#6bd548" stroke-width="1.7"/>
<path d="M252.3,142 C251.1,144.2 246.8,151.3 245,154.9 C243.3,158.4 243.3,162.6 241.6,163.2 C239.8,163.8 234.7,160.3 234.5,158.4 C234.4,156.5 237.7,152.3 240.7,151.8 C243.6,151.4 249.9,153.1 252.2,155.8 C254.5,158.4 251.9,164.3 254.5,167.5 C257,170.7 265.4,173.7 267.5,174.9" stroke="#3bd2b4" stroke-width="1.3"/>
<path d="M182.2,190.1 C181.5,187.9 176.1,179.6 178,177.2 C180,174.9 189.6,175.8 193.9,176.2 C198.2,176.5 199.4,178.7 203.8,179.4 C208.2,180.1 215.3,181 220.2,180.1 C225.2,179.3 228.4,175.3 233.3,174.2 C238.3,173.2 246.3,172.2 249.8,173.6 C253.3,175.1 252.2,182.5 254.2,182.9 C256.1,183.2 259.1,179 261.4,176 C263.7,172.9 266.9,166.3 268,164.4" stroke="#3bd2b4" stroke-width="1.8"/>
<path d="M167.6,80 C170.3,79.3 180.2,77.7 183.8,76.1 C187.5,74.5 186.4,72.6 189.4,70.2 C192.5,67.7 200.5,65.2 202.1,61.3 C203.8,57.4 198.3,49.2 199.5,46.6 C200.6,43.9 205.2,45 209.1,45.5 C213,46 218.9,48.7 222.8,49.7 C226.6,50.6 232.3,49.2 232.1,51.2 C231.8,53.2 225,60.6 221.3,61.6 C217.6,62.7 211.8,58.3 209.9,57.6" stroke="#3bd2b4" stroke-width="1.1"/>
<path d="M226.2,68 C227.1,66.1 231,56.2 231.1,56.3 C231.2,56.5 226.6,65.9 227.1,69 C227.6,72.1 235.2,72.8 234.2,75 C233.3,77.1 224.9,79.1 221.7,82.1 C218.5,85.2 216.5,89.5 215,93.4 C213.6,97.4 212.2,103.3 213,105.9 C213.9,108.4 219,108.3 220.2,108.8" stroke="#3bd2b4" stroke-width="2"/>
<path d="M31.1,184.8 C30.5,183.6 26.1,178.5 27.7,178 C29.3,177.4 38.1,182.5 40.7,181.6 C43.4,180.7 40.9,173.8 43.5,172.6 C46.1,171.4 52.9,173.4 56.5,174.4 C60.1,175.4 64.4,176.5 65,178.7 C65.6,180.9 60.8,186.1 60,187.5" stroke="#d3986d" stroke-width="1.1"/>
<path d="M173.8,177.7 C176.6,178.4 186.8,181.1 190.9,181.4 C195,181.7 197.9,181.5 198.3,179.5 C198.7,177.5 193.6,173.1 193.5,169.5 C193.3,165.9 194.1,159.6 197.5,157.9 C200.9,156.2 211.2,158.9 213.9,159.1" stroke="#3bd2b4" stroke-width="1.9"/>
<path d="M270.2,206.3 C268.6,204.6 260.3,199.2 260.6,196.2 C261,193.2 269.3,191.3 272.4,188.3 C275.4,185.3 279.6,182.1 278.8,178.3 C277.9,174.4 267.8,168.2 267.3,165.4 C266.9,162.6 275.6,163.5 276.1,161.4 C276.6,159.4 273.9,155.7 270.4,153.3 C266.9,150.9 257.6,148 255.1,146.9" stroke="#3bd2b4" stroke-width="1.9"/>
<path d="M207.9,188.8 C207.9,187.1 209.1,179.5 207.5,178.3 C206,177.1 202,182.2 198.7,181.4 C195.4,180.7 191.7,176 187.7,173.9 C183.7,171.8 178.6,170.1 174.6,168.8 C170.7,167.5 165.7,166.4 163.9,165.9" stroke="#3bd2b4" stroke-width="1.4"/>
<path d="M111.2,128.9 C113.2,129.4 121.7,129.2 122.9,132.2 C124.1,135.3 117.1,143.3 118.6,147.1 C120.2,151 128.8,155.9 132.2,155.3 C135.6,154.7 137.7,147.9 138.9,143.4 C140.1,139 136.7,132.3 139.3,128.5 C141.9,124.7 151.2,120.2 154.5,120.5 C157.8,120.9 157.4,129.9 159.3,130.7 C161.1,131.6 163.7,124.9 165.5,125.6 C167.4,126.4 168.1,133.4 170.3,135.1 C172.5,136.9 177.3,135.8 178.7,136" stroke="#50aad7" stroke-width="1.4"/>
<path d="M215.7,52.6 C214.4,53.4 210.4,55.2 208.1,57.1 C205.7,59.1 200.7,62.3 201.5,64.5 C202.4,66.8 208.7,70.4 213.2,70.7 C217.6,71 225.1,68.4 228.1,66.4 C231.1,64.3 231.1,57.9 231.2,58.5 C231.3,59.2 229.1,68.5 228.7,70.5" stroke="#3bd2b4" stroke-width="1.2"/>
<path d="M184.9,230 C186.3,229.1 192,227 193.6,224.6 C195.2,222.1 195.5,219.5 194.5,215.3 C193.4,211.1 185.7,202.3 187.3,199.4 C188.9,196.4 201.4,199.7 204.1,197.7 C206.8,195.7 202.3,189.3 203.5,187.5 C204.7,185.6 208.8,185.5 211.3,186.5 C213.9,187.5 218.8,191.6 219,193.4 C219.2,195.3 215.3,197.9 212.7,197.6 C210.2,197.3 205.2,192.6 203.7,191.6" stroke="#3bd2b4" stroke-width="1.1"/>
<path d="M243.8,153.8 C245.5,152.7 251.7,150 253.5,147.5 C255.3,144.9 252.5,140.2 254.8,138.4 C257.1,136.7 264.7,138.5 267.4,136.9 C270.1,135.3 268.6,131.8 271.2,128.6 C273.7,125.4 282.5,121.1 282.6,117.7 C282.6,114.3 273.5,108.1 271.4,108 C269.3,107.9 268.1,114.8 270.2,117 C272.2,119.3 281.3,120.8 283.6,121.6" stroke="#3bd2b4" stroke-width="1.6"/>
<path d="M202.8,151.7 C203.9,150.3 208.7,146.7 209.4,143 C210,139.3 205.8,131.8 206.8,129.4 C207.7,127.1 211.3,130 215,128.9 C218.7,127.8 227.1,126.2 228.9,122.9 C230.7,119.6 226.2,111.5 225.7,109.2" stroke="#3bd2b4" stroke-width="1.2"/>
<path d="M205.8,167.9 C207.1,166.4 211.5,161.7 213.9,159.2 C216.3,156.8 216.5,154.2 220.1,153.4 C223.8,152.6 233,152.4 235.8,154.3 C238.6,156.2 238.1,161.6 237.1,164.8 C236.2,168 232.6,172.1 230.1,173.5 C227.6,174.9 223.7,175.9 222.1,173 C220.5,170.1 220.8,158.9 220.6,156" stroke="#3bd2b4" stroke-width="1.5"/>
<path d="M155.4,156.9 C156.4,155.7 161.3,151.9 161,149.6 C160.7,147.3 154.3,145.4 153.5,143.2 C152.7,140.9 157.9,138.1 156.1,136 C154.3,133.9 145.8,130.6 142.7,130.6 C139.5,130.6 138.2,135 137.3,135.8" stroke="#50aad7" stroke-width="1.6"/>
<path d="M153.2,205.2 C153.3,206.5 151.8,211.5 154,212.9 C156.2,214.3 162.6,213.2 166.4,213.4 C170.1,213.5 174.5,215.6 176.5,213.8 C178.6,212 180.3,205.2 178.6,202.5 C176.8,199.9 168.1,198.5 166.1,197.7" stroke="#e46c38" stroke-width="1.9"/>
<path d="M167.8,218 C166.1,218.8 161.3,220.3 157.6,222.9 C154,225.5 149.4,230.7 146,233.7 C142.5,236.6 139.7,241.6 136.9,240.5 C134.1,239.5 131.8,230.3 129,227.5 C126.2,224.7 121.5,224.3 120,223.6" stroke="#e46c38" stroke-width="1.3"/>
<path d="M123.7,184.7 C124.5,186.3 125.3,192.7 128.5,194.2 C131.7,195.7 139.4,195.5 142.7,193.7 C146,191.9 147,188.1 148.2,183.5 C149.4,178.9 149.8,170.3 150,166.1 C150.2,161.9 146.6,159.1 149.4,158.3 C152.1,157.6 163.6,163.6 166.4,161.4 C169.3,159.3 165.2,150.5 166.5,145.3 C167.7,140.1 170.9,134.2 173.9,130.4 C177,126.5 183.2,123.5 185,122.2" stroke="#e1db46" stroke-width="1.8"/>
<path d="M101.8,48.8 C101.4,50 101.4,53 99.2,56.5 C96.9,59.9 91.2,65.5 88.6,69.6 C85.9,73.7 86.7,79.9 83.1,80.9 C79.6,81.8 71.4,77.2 67.4,75.3 C63.4,73.4 60.7,72.8 59.2,69.3 C57.8,65.8 57.2,55.6 58.6,54.4 C60,53.3 66,59.4 67.6,62.3 C69.3,65.3 67.4,68.4 68.7,71.9 C69.9,75.3 74.2,81.1 75.3,82.9" stroke="#6bd548" stroke-width="1.4"/>
<path d="M89,139.5 C88.2,138.2 85.7,134.4 84,131.4 C82.3,128.4 79.7,124.4 78.6,121.5 C77.5,118.7 79.3,117.4 77.3,114.2 C75.3,111 70.4,103.9 66.5,102.3 C62.5,100.6 55.8,103.9 53.6,104.3" stroke="#6bd548" stroke-width="1.5"/>
<path d="M226.2,46.3 C227.5,46.6 234.7,47.1 234,47.8 C233.4,48.5 225.6,51 222.5,50.6 C219.5,50.1 219.6,45.2 215.9,45.4 C212.1,45.6 203.9,51.5 200,51.8 C196,52.1 195.3,47.9 192.2,47.4 C189.1,46.8 185.1,49.5 181.3,48.4 C177.6,47.4 171.8,42.3 169.9,41.1" stroke="#3bd2b4" stroke-width="1.8"/>
<path d="M151.7,215.7 C149.9,214.3 143.5,211 140.7,207.4 C137.9,203.8 136.7,197.4 134.8,194.2 C132.9,190.9 132,190.1 129.1,188.1 C126.2,186 120.6,181.5 117.6,182.1 C114.6,182.6 113.2,191.1 111.2,191.5 C109.2,191.9 105.6,187 105.7,184.6 C105.8,182.1 109.6,178.5 111.9,176.5 C114.2,174.6 118.3,173.5 119.5,172.9" stroke="#e1db46" stroke-width="1.9"/>
<path d="M84.4,103 C83,104.2 77.8,106.6 75.9,110.3 C74,114.1 75.6,122.8 73.1,125.4 C70.6,128.1 64.2,125.6 60.7,126.2 C57.1,126.7 54.1,127 51.8,128.7 C49.6,130.3 49.6,133.4 47.2,136.1 C44.8,138.9 37.1,141.4 37.3,145 C37.5,148.5 44,154.9 48.5,157.5 C52.9,160 61.3,156.9 64.2,160.2 C67.1,163.5 65.8,174.4 66.1,177.2" stroke="#6bd548" stroke-width="1.2"/>
<path d="M226.6,157.2 C227.5,159.6 229.6,167.2 231.6,171.1 C233.6,175.1 235.7,181 238.5,181 C241.4,181 246.2,173.6 248.6,171 C251,168.3 253.6,166.7 252.9,164.9 C252.2,163 248,161.2 244.6,159.9 C241.1,158.7 236.4,159.9 232.3,157.5 C228.3,155.2 223.5,147.1 220.1,146 C216.8,144.9 214.8,148.6 212.3,150.8 C209.7,153.1 206,158 204.7,159.4" stroke="#3bd2b4" stroke-width="1.8"/>
<path d="M172.1,201.9 C170.4,201.4 162.3,201.6 162,198.8 C161.7,196.1 168,188.8 170.2,185.4 C172.3,182 172,178.4 174.9,178.4 C177.8,178.4 185.8,181.5 187.4,185.5 C189,189.6 184.9,199.8 184.5,202.7" stroke="#e1db46" stroke-width="1.9"/>
<path d="M45.8,84.7 C45.8,82.7 43.6,75.3 45.8,73.1 C47.9,71 56.7,74.2 58.8,71.8 C60.9,69.4 57.4,63 58.5,58.7 C59.5,54.3 62.9,48.2 65.1,45.6 C67.4,42.9 69.4,41.5 72.1,42.9 C74.8,44.3 78.5,49.8 81.4,54.1 C84.2,58.4 86.8,65.5 89.2,68.8 C91.6,72.2 94.1,74.4 95.6,74.1 C97.2,73.9 98.2,68.3 98.8,67.2" stroke="#6bd548" stroke-width="1.2"/>
<path d="M166.1,254.4 C165.4,252.3 163.4,245.1 161.8,241.9 C160.1,238.8 159.6,235.4 156.4,235.3 C153.2,235.2 144.4,239 142.5,241.3 C140.7,243.6 142.7,247.9 145.3,249.1 C147.8,250.4 155,246.9 157.9,249 C160.9,251 161,260.5 162.7,261.7 C164.5,262.9 169.7,258.4 168.5,256.2 C167.2,254 159.9,249.5 155.3,248.6 C150.7,247.7 143.2,250.3 140.8,250.7" stroke="#e46c38" stroke-width="1.4"/>
<path d="M78.1,29 C79.1,30.2 82.8,33.8 84.1,36.2 C85.3,38.6 83.6,41.7 85.7,43.5 C87.8,45.2 94.5,44.9 96.6,46.7 C98.8,48.4 97,53.5 98.8,54.1 C100.7,54.7 106.1,52.4 107.8,50.3 C109.5,48.1 108,44.2 108.8,41.4 C109.6,38.5 114.7,34.9 112.7,33.2 C110.7,31.5 101.3,31.3 96.7,31 C92,30.7 87,31.3 85,31.3" stroke="#3656d8" stroke-width="1.3"/>
<path d="M198.4,197.1 C195.8,197.6 187.6,199 182.4,200.2 C177.3,201.3 170.5,201.9 167.5,204 C164.5,206.1 164.6,209.6 164.4,212.6 C164.2,215.5 167.6,220.1 166.2,221.6 C164.8,223 159,221.7 155.9,221.3 C152.8,220.9 150.8,220.2 147.7,219.1 C144.6,218 140.3,215.6 137.2,214.9 C134.2,214.1 130.6,214.7 129.2,214.7" stroke="#e46c38" stroke-width="1.1"/>
<path d="M102.9,71.5 C104.5,72.6 109.7,77.4 112.6,78.3 C115.4,79.1 117.8,75.5 120,76.5 C122.2,77.6 123.5,83.8 125.8,84.4 C128.2,85 130.3,81.6 134.1,80.1 C138,78.6 144.4,76.4 148.8,75.5 C153.3,74.5 158,73.1 160.9,74.3 C163.7,75.5 165.1,81.2 166,82.6" stroke="#3656d8" stroke-width="1.4"/>
<path d="M118.7,183.8 C120,182.1 125.8,177.3 126.3,173.9 C126.8,170.4 124.9,164.1 121.8,162.8 C118.6,161.5 111.1,162.9 107.5,165.9 C104,168.9 102.9,177 100.4,180.8 C98,184.6 93.5,185.2 92.7,188.7 C91.8,192.3 92.2,199 95.2,202 C98.2,205 108.2,205.9 110.8,206.7" stroke="#e1db46" stroke-width="1.1"/>
<path d="M159,79 C156.5,79.2 147,78.7 144.3,80.2 C141.7,81.6 145.4,84.9 143.3,87.6 C141.2,90.2 135.1,95.3 131.6,96.1 C128.2,96.8 126.2,90.9 122.8,92.1 C119.3,93.4 110.8,99.8 110.9,103.5 C111,107.3 122.1,110.4 123.3,114.7 C124.6,118.9 117.5,124.9 118.5,128.9 C119.6,132.9 127.7,137 129.5,138.7" stroke="#3656d8" stroke-width="1.1"/>
<path d="M239.3,116.5 C236.6,116.1 225.9,116 223.1,114.2 C220.3,112.4 223.7,107.8 222.6,105.6 C221.5,103.4 218.1,104 216.6,100.9 C215.1,97.8 215.3,90.8 213.4,87.2 C211.5,83.5 207,82.8 205.2,79.1 C203.4,75.4 205.4,68.4 202.6,64.9 C199.7,61.4 192.7,59 188,58.2 C183.3,57.4 176.6,59.7 174.4,60" stroke="#3bd2b4" stroke-width="1.2"/>
<path d="M208.8,11.8 C206.3,11.8 196.8,9.6 193.7,12 C190.6,14.4 191.6,21.9 190,26.4 C188.4,30.8 186.8,37.8 184,38.7 C181.1,39.6 176.5,32 172.9,31.8 C169.2,31.6 166.2,35.5 161.8,37.5 C157.4,39.5 148.9,42.9 146.3,44" stroke="#3656d8" stroke-width="1.7"/>
<path d="M223.8,191.4 C225,191.1 229.6,191.3 231.4,189.7 C233.2,188.2 232.5,183.3 234.6,181.9 C236.7,180.5 242.3,178.8 244,181.2 C245.8,183.6 242.5,193.8 245.1,196.1 C247.7,198.4 254.9,196.4 259.5,195 C264.2,193.7 269.4,188.1 272.8,188.1 C276.3,188.2 276.9,196.1 280.2,195.2 C283.4,194.4 291.5,182.7 292.2,183.2 C292.9,183.7 285.5,195.5 284.2,198" stroke="#3bd2b4" stroke-width="1.7"/>
<path d="M243.2,183.4 C241.7,182.8 237.2,182.8 234.4,180 C231.6,177.1 226.5,170.3 226.2,166.3 C225.8,162.2 233,159.6 232.3,155.6 C231.6,151.6 222.4,146.2 221.8,142.2 C221.2,138.1 227.7,133 228.9,131.2" stroke="#3bd2b4" stroke-width="1.2"/>
<path d="M228.8,68.9 C230.5,69.6 238.1,70.1 238.9,72.9 C239.7,75.7 232.5,82.2 233.6,85.6 C234.7,89.1 241.8,91.2 245.5,93.6 C249.3,95.9 254,97.6 256.1,99.8 C258.1,102 257.6,105.8 257.9,106.9" stroke="#3bd2b4" stroke-width="1.7"/>
<path d="M187.8,203.8 C189.7,202.7 196.2,200.8 199.1,197.3 C202.1,193.8 203,187.5 205.5,183 C208,178.6 214,174.5 214,170.6 C214,166.6 207.3,163.2 205.3,159.4 C203.3,155.6 200.8,151.7 202,147.9 C203.2,144 211.9,139.3 212.5,136.1 C213.1,132.8 208.3,130.2 205.6,128.5 C203,126.7 198.5,124.5 196.6,125.7 C194.8,126.8 192.9,132.5 194.5,135.6 C196.2,138.7 204.4,142.7 206.3,144.1" stroke="#3bd2b4" stroke-width="1.4"/>
<path d="M95.1,136.8 C94,137.6 92,138.7 88.8,141.5 C85.7,144.3 80.1,149.6 76.3,153.5 C72.5,157.3 68,160.1 66,164.3 C64,168.6 63,175 64.3,179.1 C65.7,183.2 74.2,186.1 74.1,189 C74.1,191.8 65.7,194.9 64,196.1" stroke="#6bd548" stroke-width="1.8"/>
<path d="M125.1,32.4 C123,33 116.8,35.8 112.5,36.3 C108.2,36.8 103.5,34.4 99.4,35.4 C95.3,36.4 90.8,39 88,42.1 C85.2,45.2 82.5,50 82.5,54 C82.5,58 87.1,63.9 88.1,65.9" stroke="#1c3fc8" stroke-width="3.6"/>
<path d="M163.1,52.8 C163.8,54.8 168.1,61.3 167.5,65.2 C167,69 163.2,73 160,75.9 C156.9,78.8 150.7,79.3 148.6,82.6 C146.5,85.8 148.9,91.7 147.5,95.6 C146,99.6 141.1,104.6 139.9,106.4" stroke="#c01523" stroke-width="4.4"/>
<path d="M126.7,87.6 C125.9,89.7 123.9,96 122.2,100 C120.4,104 117.5,107.5 116.1,111.6 C114.8,115.8 114.4,122.5 114,124.6" stroke="#1c3fc8" stroke-width="6"/>
<path d="M100,79.6 C98.1,78.5 92.6,72.6 88.9,72.5 C85.1,72.4 80.1,75.8 77.3,78.9 C74.6,82 73.7,86.9 72.4,91.1 C71.1,95.2 71.7,100.2 69.8,103.9 C67.8,107.7 62.2,111.9 60.7,113.5" stroke="#4fd024" stroke-width="6.5"/>
<path d="M146.3,37.4 C146.9,39.6 150.9,46.5 149.9,50.1 C148.8,53.6 141.3,55.1 140,58.8 C138.6,62.4 141.4,69.6 141.7,71.8" stroke="#1c3fc8" stroke-width="3.6"/>
<path d="M111.8,95.1 C113.2,96.8 118.8,101.3 120.3,105.2 C121.7,109 120,114 120.4,118.3 C120.9,122.7 121.1,127.4 122.9,131.2 C124.8,135 129.4,137.4 131.5,141.2 C133.7,144.9 135,151.6 135.7,153.6" stroke="#1c3fc8" stroke-width="5"/>
<path d="M123.5,66.9 C124.4,64.9 129,59.1 129.1,55 C129.3,51 126.9,46.2 124.4,42.8 C122,39.3 116.2,35.6 114.5,34.1" stroke="#1c3fc8" stroke-width="4.8"/>
<path d="M124.2,42.8 C126.1,44 131.4,47.9 135.3,49.9 C139.2,52 143.5,53.2 147.4,55.1 C151.4,56.9 155.6,58.6 159.1,61.2 C162.6,63.8 166.8,69 168.4,70.5" stroke="#1c3fc8" stroke-width="4"/>
<path d="M144.9,31.4 C146.4,29.9 150.8,24.9 154.3,22.3 C157.8,19.7 162.7,18.8 165.8,15.9 C168.9,12.9 173.3,5 173,4.8 C172.7,4.6 167.7,13.4 164,14.5 C160.4,15.5 153.4,11.7 151.3,11.1" stroke="#1c3fc8" stroke-width="4.9"/>
<path d="M120.4,57.5 C122.6,57.7 129.4,59.8 133.5,58.9 C137.5,58 140.6,53.1 144.7,52 C148.8,50.9 155.7,52.3 157.9,52.3" stroke="#1c3fc8" stroke-width="5.6"/>
<path d="M142.5,78.4 C144.6,77.8 150.9,75.7 155.2,74.8 C159.4,73.9 164,74.1 168.2,73.1 C172.4,72 177.9,71.1 180.5,68.2 C183.1,65.3 183.4,57.6 184,55.5" stroke="#c01523" stroke-width="4"/>
<path d="M140.1,34.5 C142,33.4 149,31.3 151.6,28.1 C154.2,25 153.5,19.4 155.7,15.6 C157.8,11.9 160.9,8.2 164.4,5.8 C167.9,3.4 174.7,2.1 176.8,1.3" stroke="#1c3fc8" stroke-width="4.2"/>
<path d="M139.5,92.5 C139.7,90.3 138.5,82.9 140.4,79.4 C142.3,75.9 147,73.2 150.9,71.4 C154.7,69.6 159.6,67.9 163.7,68.4 C167.8,69 171.3,74.5 175.3,74.7 C179.3,74.9 185.5,70.6 187.5,69.8" stroke="#1c3fc8" stroke-width="5"/>
<path d="M88.3,141.1 C86.8,139.5 82.5,134.5 79.4,131.4 C76.3,128.3 72.1,126.1 69.6,122.6 C67.1,119.1 66.1,114.6 64.6,110.5 C63.2,106.3 59.9,101.4 60.9,97.8 C62,94.3 69.1,90.5 70.8,89.1" stroke="#4fd024" stroke-width="4.1"/>
<path d="M35.8,87.4 C38,87.7 44.6,89.1 48.9,89 C53.3,88.8 59.3,89 61.9,86.5 C64.5,83.9 63.3,77.7 64.7,73.6 C66.1,69.5 69.4,63.7 70.4,61.7" stroke="#4fd024" stroke-width="4.1"/>
<path d="M79,92.4 C81,93.4 86.7,97.9 90.8,98.3 C94.9,98.8 100.6,97.7 103.6,95.2 C106.6,92.6 106.1,86.4 108.8,83.1 C111.4,79.8 116.4,78.5 119.5,75.5 C122.5,72.4 125.7,66.4 126.9,64.6" stroke="#1c3fc8" stroke-width="4.6"/>
<path d="M85.8,121.3 C87.3,119.7 92.3,115.2 94.7,111.6 C97.1,108 97.5,102.9 100.3,99.7 C103,96.5 107.6,92.7 111.4,92.6 C115.2,92.5 121,98 122.9,99" stroke="#1c3fc8" stroke-width="5.7"/>
<path d="M71.8,61.9 C70,63.1 64.9,69.1 61,69.5 C57.2,70 49.4,63.7 48.9,64.4 C48.4,65.2 54.3,71.9 57.9,74 C61.5,76.1 66.7,77.6 70.7,77 C74.8,76.5 80.3,71.7 82.3,70.7" stroke="#4fd024" stroke-width="4.8"/>
<path d="M70.2,63.2 C71.6,61.5 76.9,56.8 78.5,53 C80.1,49.1 81,43.7 79.8,39.9 C78.5,36.1 72.4,31.8 70.9,30.2" stroke="#4fd024" stroke-width="6.3"/>
<path d="M189.9,224 C188.2,222.7 182.1,219.4 179.4,216.1 C176.6,212.8 173.8,208.5 173.4,204.4 C173,200.3 174.2,194.3 177,191.7 C179.7,189.1 187.7,189.3 189.8,188.8" stroke="#22c3a2" stroke-width="3.5"/>
<path d="M110.9,204.5 C110.4,202.4 108.1,196.1 107.7,191.8 C107.2,187.5 107.3,182.9 108.2,178.6 C109.1,174.4 112.4,168.5 113.2,166.5" stroke="#e5de19" stroke-width="5.3"/>
<path d="M235.3,215.7 C233.5,214.5 227.5,211.4 224.2,208.6 C220.9,205.7 219,200 215.4,198.8 C211.8,197.5 204.6,200.7 202.4,201.1" stroke="#22c3a2" stroke-width="4.5"/>
<path d="M224.1,209.6 C225.2,211.5 229.7,216.9 230.8,220.9 C231.9,225 231.4,233.9 230.6,234.1 C229.7,234.2 226.4,224 225.6,221.9" stroke="#e25012" stroke-width="4.9"/>
<path d="M135.8,194.8 C135.1,196.9 132.9,203.1 131.7,207.3 C130.5,211.5 131.5,217.6 128.8,220.1 C126.2,222.7 118,222.1 115.9,222.5" stroke="#e25012" stroke-width="3.6"/>
<path d="M190.1,191.1 C188,191.7 181.3,192.6 177.3,194.3 C173.4,196.1 170.2,199.5 166.4,201.6 C162.5,203.7 158.5,205.5 154.3,206.9 C150.1,208.2 144.6,207.2 141.4,209.6 C138.2,212 136.2,219.2 135.1,221.2" stroke="#e5de19" stroke-width="5.6"/>
<path d="M225.4,180.8 C225.4,183 226.1,189.6 225.4,193.9 C224.7,198.2 221.9,202.1 221.2,206.4 C220.5,210.6 220.2,215.4 221.3,219.5 C222.4,223.6 226.8,229 228,230.8" stroke="#22c3a2" stroke-width="5.9"/>
<path d="M230.9,215 C229.2,216.3 224,220.4 220.5,223 C217,225.6 213.7,228.8 209.9,230.8 C206,232.8 201.1,232.8 197.3,234.8 C193.5,236.9 188.7,241.6 187,243" stroke="#e25012" stroke-width="5.2"/>
<path d="M134.5,241.5 C133.5,243.4 127.4,251.6 128.5,253.2 C129.7,254.8 137.6,250.3 141.6,251.2 C145.6,252 150.3,259.4 152.6,258.4 C154.8,257.5 154.8,247.7 155.3,245.6" stroke="#e25012" stroke-width="4"/>
<path d="M170.9,249.3 C168.9,250.2 159.6,255.6 158.9,254.8 C158.3,254 166,248.3 167.1,244.4 C168.1,240.5 167.7,234.4 165.4,231.4 C163,228.4 155.2,227.2 153.2,226.3" stroke="#e25012" stroke-width="4.4"/>
<path d="M111.8,158.8 C112.2,156.6 114.7,149.8 113.9,145.8 C113,141.8 106.8,138.7 106.5,134.9 C106.2,131 109.8,126.7 112,122.9 C114.2,119.2 118.5,114.1 119.8,112.3" stroke="#d18047" stroke-width="4.4"/>
<path d="M92.9,179.6 C93.9,177.7 99.3,171.9 99.3,168.1 C99.3,164.3 94.9,160.5 92.6,156.8 C90.4,153 85.9,149.5 85.6,145.7 C85.2,141.8 90.1,137.7 90.6,133.5 C91.1,129.3 89,122.7 88.7,120.5" stroke="#4fd024" stroke-width="4.3"/>
<path d="M70.7,144.7 C68.5,144.3 62.1,142.7 57.7,142.1 C53.4,141.5 47.9,143.2 44.6,141.1 C41.2,139.1 38.8,131.8 37.6,130" stroke="#4fd024" stroke-width="4.3"/>
<path d="M65.9,143.4 C67.7,144.6 73,150.5 76.8,150.8 C80.6,151.2 84.8,145.7 88.9,145.6 C93,145.4 99.3,149.1 101.3,149.9" stroke="#4fd024" stroke-width="6.1"/>
<path d="M200.5,80.4 C198.6,79.2 191.2,76.7 189.3,73.3 C187.5,69.9 190.9,64.1 189.5,60.2 C188.1,56.3 182.6,51.6 181.2,49.9" stroke="#22c3a2" stroke-width="4.5"/>
<path d="M238,105.7 C235.9,105 228.4,104.1 225.6,101.3 C222.7,98.5 221,93.1 221,89 C221,84.9 226.1,80.5 225.6,76.7 C225,72.9 219,67.9 217.7,66.1" stroke="#22c3a2" stroke-width="5.3"/>
<path d="M262.8,105.1 C262.7,107.3 261.4,114 262.1,118.2 C262.8,122.4 266.1,126.2 267,130.4 C267.8,134.6 267.1,141.3 267.1,143.5" stroke="#22c3a2" stroke-width="4.4"/>
<path d="M242.5,155.9 C244.6,156.3 251.6,159.1 255.5,158 C259.3,156.9 261.7,151.1 265.6,149.6 C269.5,148 276.6,148.9 278.7,148.8" stroke="#22c3a2" stroke-width="3.8"/>
<path d="M274,84.7 C273.5,85.7 272.7,89.1 271,90.7 C269.2,92.3 266.1,93.7 263.7,94.2 C261.3,94.8 258.2,94.6 256.4,94.1 C254.7,93.7 253.4,92.4 253.4,91.5 C253.4,90.6 254.7,89.3 256.4,88.9 C258.2,88.4 261.3,88.2 263.7,88.8 C266.1,89.3 269.2,90.7 271,92.3 C272.7,93.9 274,96.3 274,98.3 C274,100.3 272.7,102.8 271,104.3 C269.2,105.9 266.1,107.3 263.7,107.8 C261.3,108.4 258.2,108.2 256.4,107.8 C254.7,107.3 253.4,106 253.4,105.1 C253.4,104.2 254.7,102.9 256.4,102.5 C258.2,102 261.3,101.8 263.7,102.4 C266.1,103 269.2,104.3 271,105.9 C272.7,107.5 274,109.9 274,111.9 C274,113.9 272.7,116.4 271,118 C269.2,119.6 266.1,120.9 263.7,121.5 C261.3,122 258.2,121.8 256.4,121.4 C254.7,120.9 253.4,119.6 253.4,118.7 C253.4,117.9 254.7,116.6 256.4,116.1 C258.2,115.7 261.3,115.5 263.7,116 C266.1,116.6 269.2,117.9 271,119.5 C272.7,121.1 273.5,124.6 274,125.6" stroke="#22c3a2" stroke-width="3.5"/>
<path d="M260.8,157.7 C260.3,158.6 259.7,161.8 258.2,163.3 C256.7,164.9 254.1,166.2 252,166.8 C249.9,167.5 247.2,167.5 245.8,167.2 C244.3,167 243.2,166.1 243.2,165.5 C243.2,164.9 244.3,163.9 245.8,163.7 C247.2,163.5 249.9,163.5 252,164.1 C254.1,164.8 256.7,166.1 258.2,167.6 C259.7,169.1 260.8,171.4 260.8,173.3 C260.8,175.1 259.7,177.4 258.2,178.9 C256.7,180.4 254.1,181.8 252,182.4 C249.9,183.1 247.2,183 245.8,182.8 C244.3,182.6 243.2,181.6 243.2,181 C243.2,180.5 244.3,179.5 245.8,179.3 C247.2,179 249.9,179 252,179.7 C254.1,180.3 256.7,181.6 258.2,183.2 C259.7,184.7 260.8,186.9 260.8,188.8 C260.8,190.7 259.7,193 258.2,194.5 C256.7,196 254.1,197.3 252,198 C249.9,198.6 247.2,198.6 245.8,198.4 C244.3,198.2 243.2,197.2 243.2,196.6 C243.2,196 244.3,195.1 245.8,194.8 C247.2,194.6 249.9,194.6 252,195.3 C254.1,195.9 256.7,197.2 258.2,198.7 C259.7,200.3 260.3,203.5 260.8,204.4" stroke="#22c3a2" stroke-width="3"/>
<path d="M102.6,224.8 C103.6,224.4 107,223.7 108.7,222.3 C110.4,220.8 111.9,218.1 112.7,216.1 C113.5,214 113.7,211.3 113.6,209.9 C113.5,208.4 112.7,207.3 112.3,207.3 C111.9,207.3 111.1,208.4 111,209.9 C111,211.3 111.1,214 111.9,216.1 C112.7,218.1 114.2,220.8 115.9,222.3 C117.6,223.7 120,224.8 122.1,224.8 C124.1,224.8 126.6,223.7 128.3,222.3 C129.9,220.8 131.4,218.1 132.2,216.1 C133.1,214 133.2,211.3 133.1,209.9 C133.1,208.4 132.3,207.3 131.9,207.3 C131.4,207.3 130.6,208.4 130.6,209.9 C130.5,211.3 130.6,214 131.5,216.1 C132.3,218.1 133.8,220.8 135.4,222.3 C137.1,223.7 139.6,224.8 141.6,224.8 C143.7,224.8 146.1,223.7 147.8,222.3 C149.5,220.8 151,218.1 151.8,216.1 C152.6,214 152.7,211.3 152.7,209.9 C152.6,208.4 151.8,207.3 151.4,207.3 C151,207.3 150.2,208.4 150.1,209.9 C150,211.3 150.2,214 151,216.1 C151.8,218.1 153.3,220.8 155,222.3 C156.7,223.7 159.1,224.8 161.2,224.8 C163.2,224.8 165.6,223.7 167.3,222.3 C169,220.8 170.5,218.1 171.3,216.1 C172.1,214 172.3,211.3 172.2,209.9 C172.1,208.4 171.3,207.3 170.9,207.3 C170.5,207.3 169.7,208.4 169.6,209.9 C169.6,211.3 169.7,214 170.5,216.1 C171.3,218.1 172.8,220.8 174.5,222.3 C176.2,223.7 178.6,224.8 180.7,224.8 C182.7,224.8 185.2,223.7 186.9,222.3 C188.5,220.8 190,218.1 190.8,216.1 C191.7,214 191.8,211.3 191.7,209.9 C191.7,208.4 190.9,207.3 190.5,207.3 C190,207.3 189.2,208.4 189.2,209.9 C189.1,211.3 189.2,214 190.1,216.1 C190.9,218.1 192.4,220.8 194,222.3 C195.7,223.7 198.2,224.8 200.2,224.8 C202.3,224.8 204.7,223.7 206.4,222.3 C208.1,220.8 209.6,218.1 210.4,216.1 C211.2,214 211.3,211.3 211.3,209.9 C211.2,208.4 210.4,207.3 210,207.3 C209.6,207.3 208.8,208.4 208.7,209.9 C208.6,211.3 208.8,214 209.6,216.1 C210.4,218.1 211.9,220.8 213.6,222.3 C215.3,223.7 218.7,224.4 219.8,224.8" stroke="#e25012" stroke-width="3.2"/>
<path d="M150.9,46.7 C150.4,47.7 149.6,51 147.9,52.5 C146.2,54 143.1,55.3 140.6,55.8 C138.2,56.3 135.1,56 133.4,55.4 C131.7,54.9 130.4,53.5 130.4,52.6 C130.4,51.6 131.7,50.2 133.4,49.7 C135.1,49.1 138.2,48.9 140.6,49.3 C143.1,49.8 146.2,51.1 147.9,52.6 C149.6,54.1 150.9,56.5 150.9,58.4 C150.9,60.3 149.6,62.7 147.9,64.2 C146.2,65.7 143.1,67 140.6,67.5 C138.2,67.9 135.1,67.7 133.4,67.1 C131.7,66.6 130.4,65.2 130.4,64.2 C130.4,63.3 131.7,61.9 133.4,61.4 C135.1,60.8 138.2,60.5 140.6,61 C143.1,61.5 146.2,62.8 147.9,64.3 C149.6,65.8 150.9,68.1 150.9,70.1 C150.9,72 149.6,74.4 147.9,75.9 C146.2,77.4 143.1,78.6 140.6,79.1 C138.2,79.6 135.1,79.3 133.4,78.8 C131.7,78.3 130.4,76.9 130.4,75.9 C130.4,75 131.7,73.6 133.4,73 C135.1,72.5 138.2,72.2 140.6,72.7 C143.1,73.2 146.2,74.5 147.9,76 C149.6,77.5 150.4,80.8 150.9,81.8" stroke="#1c3fc8" stroke-width="4.5"/></g><circle cx="79" cy="264" r="9" fill="#1a7fb0"/><circle cx="69" cy="285" r="9" fill="#1a7fb0"/><circle cx="61" cy="305" r="9" fill="#1f9a50"/><circle cx="66" cy="322" r="9" fill="#1f9a50"/><circle cx="76" cy="337" r="9" fill="#1f9a50"/><circle cx="231" cy="38" r="9" fill="#1a87b8"/></g><path id="phalo" d="M294.3,137.2 L297.8,156.3 L294,175.1 L283.7,191.5 L269.6,204.7 L254.4,215.3 L240.1,224.6 L226.9,234 L214,243.7 L200.3,252.5 L185.1,258.9 L168.8,261.6 L152.4,260.6 L136.5,257.1 L121.3,252.9 L105.7,249.5 L88.8,246.9 L70.5,243.6 L51.9,237.4 L35.6,226.6 L24.3,210.9 L19.8,192 L21.9,172.1 L28.4,153.5 L35.9,137.2 L41.6,122.7 L44.3,108.4 L44.9,92.9 L45.8,75.9 L49.4,58.5 L57.3,42.5 L69.6,29.7 L84.8,20.6 L101.4,14.6 L118.2,10.1 L135.1,6.3 L152.4,3.1 L170.3,1.7 L188.1,4.2 L204.6,11.6 L218,23.9 L227.8,39.2 L234.6,55.2 L240.6,69.8 L248.1,82.2 L258.5,93.4 L271.5,105.4 L284.6,119.9 Z"/></defs>
<rect width="3059" height="2214" fill="#fff"/>
<g filter="url(#gblur)">
<path d="M2711,452 C2731.8,455.7 2750.2,463 2766,470 C2781.8,477 2793,485.7 2806,494 C2819,502.3 2831.2,502.3 2844,520 C2856.8,537.7 2871.2,571.7 2883,600 C2894.8,628.3 2905.3,663.5 2915,690 C2924.7,716.5 2932.8,732.3 2941,759 C2949.2,785.7 2954.8,809.8 2964,850 C2973.2,890.2 2988.7,956.2 2996,1000 C3003.3,1043.8 3005.2,1071.3 3008,1113 C3010.8,1154.7 3012.8,1202.2 3013,1250 C3013.2,1297.8 3011,1358.3 3009,1400 C3007,1441.7 3004.8,1466.7 3001,1500 C2997.2,1533.3 2992.7,1566.7 2986,1600 C2979.3,1633.3 2970.5,1666.7 2961,1700 C2951.5,1733.3 2943,1766.7 2929,1800 C2915,1833.3 2891.7,1874.3 2877,1900 C2862.3,1925.7 2852.3,1937.3 2841,1954 C2829.7,1970.7 2820.2,1985.7 2809,2000 C2797.8,2014.3 2786.2,2028.3 2774,2040 C2761.8,2051.7 2749.8,2062 2736,2070 C2722.2,2078 2706.8,2083.5 2691,2088 C2675.2,2092.5 2657.7,2097 2641,2097 C2624.3,2097 2606.8,2092.5 2591,2088 C2575.2,2083.5 2559.8,2078 2546,2070 C2532.2,2062 2520.2,2051.7 2508,2040 C2495.8,2028.3 2484.2,2014.3 2473,2000 C2461.8,1985.7 2452.3,1970.7 2441,1954 C2429.7,1937.3 2419.7,1925.7 2405,1900 C2390.3,1874.3 2367,1833.3 2353,1800 C2339,1766.7 2330.5,1733.3 2321,1700 C2311.5,1666.7 2302.7,1633.3 2296,1600 C2289.3,1566.7 2284.8,1533.3 2281,1500 C2277.2,1466.7 2275,1441.7 2273,1400 C2271,1358.3 2268.8,1297.8 2269,1250 C2269.2,1202.2 2271.2,1154.7 2274,1113 C2276.8,1071.3 2278.7,1043.8 2286,1000 C2293.3,956.2 2308.8,890.2 2318,850 C2327.2,809.8 2332.8,785.7 2341,759 C2349.2,732.3 2357.3,716.5 2367,690 C2376.7,663.5 2387.2,628.3 2399,600 C2410.8,571.7 2425.2,537.7 2438,520 C2450.8,502.3 2463,502.3 2476,494 C2489,485.7 2500.2,477 2516,470 C2531.8,463 2550.2,455.7 2571,452 C2591.8,448.3 2617.7,448 2641,448 C2664.3,448 2690.2,448.3 2711,452 Z" fill="#fcfae6" stroke="#fcfae6" stroke-width="44" stroke-linejoin="round" filter="url(#soft)"/>
<path d="M2711,452 C2731.8,455.7 2750.2,463 2766,470 C2781.8,477 2793,485.7 2806,494 C2819,502.3 2831.2,502.3 2844,520 C2856.8,537.7 2871.2,571.7 2883,600 C2894.8,628.3 2905.3,663.5 2915,690 C2924.7,716.5 2932.8,732.3 2941,759 C2949.2,785.7 2954.8,809.8 2964,850 C2973.2,890.2 2988.7,956.2 2996,1000 C3003.3,1043.8 3005.2,1071.3 3008,1113 C3010.8,1154.7 3012.8,1202.2 3013,1250 C3013.2,1297.8 3011,1358.3 3009,1400 C3007,1441.7 3004.8,1466.7 3001,1500 C2997.2,1533.3 2992.7,1566.7 2986,1600 C2979.3,1633.3 2970.5,1666.7 2961,1700 C2951.5,1733.3 2943,1766.7 2929,1800 C2915,1833.3 2891.7,1874.3 2877,1900 C2862.3,1925.7 2852.3,1937.3 2841,1954 C2829.7,1970.7 2820.2,1985.7 2809,2000 C2797.8,2014.3 2786.2,2028.3 2774,2040 C2761.8,2051.7 2749.8,2062 2736,2070 C2722.2,2078 2706.8,2083.5 2691,2088 C2675.2,2092.5 2657.7,2097 2641,2097 C2624.3,2097 2606.8,2092.5 2591,2088 C2575.2,2083.5 2559.8,2078 2546,2070 C2532.2,2062 2520.2,2051.7 2508,2040 C2495.8,2028.3 2484.2,2014.3 2473,2000 C2461.8,1985.7 2452.3,1970.7 2441,1954 C2429.7,1937.3 2419.7,1925.7 2405,1900 C2390.3,1874.3 2367,1833.3 2353,1800 C2339,1766.7 2330.5,1733.3 2321,1700 C2311.5,1666.7 2302.7,1633.3 2296,1600 C2289.3,1566.7 2284.8,1533.3 2281,1500 C2277.2,1466.7 2275,1441.7 2273,1400 C2271,1358.3 2268.8,1297.8 2269,1250 C2269.2,1202.2 2271.2,1154.7 2274,1113 C2276.8,1071.3 2278.7,1043.8 2286,1000 C2293.3,956.2 2308.8,890.2 2318,850 C2327.2,809.8 2332.8,785.7 2341,759 C2349.2,732.3 2357.3,716.5 2367,690 C2376.7,663.5 2387.2,628.3 2399,600 C2410.8,571.7 2425.2,537.7 2438,520 C2450.8,502.3 2463,502.3 2476,494 C2489,485.7 2500.2,477 2516,470 C2531.8,463 2550.2,455.7 2571,452 C2591.8,448.3 2617.7,448 2641,448 C2664.3,448 2690.2,448.3 2711,452 Z" fill="#f1e7d4" filter="url(#soft2)"/>
<path d="M1173,400 L1173,496 A295,274 0 0 0 1763,496 L1763,400 Z" fill="#ece0c4"/>
<path d="M1363.8,720 L1363.2,716.6 L1363,713.1 L1363.4,709.7 L1364.3,706.3 L1365.7,702.9 L1367.3,699.5 L1369,696 L1370.7,692.6 L1372.1,689.2 L1373.2,685.8 L1373.9,682.3 L1374,678.9 L1373.5,675.5 L1372.6,672 L1371.2,668.6 L1369.6,665.2 L1367.9,661.8 L1366.2,658.4 L1364.8,654.9 L1363.7,651.5 L1363.1,648.1 L1363,644.6 L1363.5,641.2 L1364.5,637.8 L1365.9,634.4 L1367.5,631 L1369.2,627.5 L1370.9,624.1 L1372.3,620.7 L1373.4,617.2 L1373.9,613.8 L1373.9,610.4 L1373.4,607 L1372.4,603.5 L1371,600.1 L1369.4,596.7 L1367.6,593.3 L1366,589.9 L1364.6,586.4 L1363.6,583" fill="none" stroke="#d3c7aa" stroke-width="11" stroke-linecap="round"/>
<path d="M1366,534 L1393,581 L1339,581 Z" fill="#d3c7aa"/>
<path d="M1414.8,720 L1414.4,718.2 L1414.1,716.5 L1414,714.7 L1414,712.9 L1414.2,711.1 L1414.5,709.4 L1414.9,707.6 L1415.5,705.8 L1416.2,704 L1416.9,702.2 L1417.8,700.5 L1418.6,698.7 L1419.5,696.9 L1420.4,695.1 L1421.3,693.4 L1422.1,691.6 L1422.9,689.8 L1423.5,688 L1424.1,686.3 L1424.5,684.5 L1424.8,682.7 L1425,681 L1425,679.2 L1424.8,677.4 L1424.6,675.6 L1424.1,673.9 L1423.6,672.1 L1422.9,670.3 L1422.2,668.5 L1421.4,666.8 L1420.5,665 L1419.6,663.2 L1418.7,661.4 L1417.8,659.6 L1417,657.9 L1416.2,656.1 L1415.5,654.3 L1415,652.5 L1414.5,650.8 L1414.2,649" fill="none" stroke="#d3c7aa" stroke-width="11" stroke-linecap="round"/>
<path d="M1417,601 L1444,647 L1390,647 Z" fill="#d3c7aa"/>
<path d="M1466.8,720 L1466.2,716.6 L1466,713.1 L1466.4,709.7 L1467.3,706.3 L1468.7,702.9 L1470.3,699.5 L1472,696 L1473.7,692.6 L1475.1,689.2 L1476.2,685.8 L1476.9,682.3 L1477,678.9 L1476.5,675.5 L1475.6,672 L1474.2,668.6 L1472.6,665.2 L1470.9,661.8 L1469.2,658.4 L1467.8,654.9 L1466.7,651.5 L1466.1,648.1 L1466,644.6 L1466.5,641.2 L1467.5,637.8 L1468.9,634.4 L1470.5,631 L1472.2,627.5 L1473.9,624.1 L1475.3,620.7 L1476.4,617.2 L1476.9,613.8 L1476.9,610.4 L1476.4,607 L1475.4,603.5 L1474,600.1 L1472.4,596.7 L1470.6,593.3 L1469,589.9 L1467.6,586.4 L1466.6,583" fill="none" stroke="#d3c7aa" stroke-width="11" stroke-linecap="round"/>
<path d="M1469,534 L1496,581 L1442,581 Z" fill="#d3c7aa"/>
<path d="M1518.8,720 L1518.4,718.2 L1518.1,716.5 L1518,714.7 L1518,712.9 L1518.2,711.1 L1518.5,709.4 L1518.9,707.6 L1519.5,705.8 L1520.2,704 L1520.9,702.2 L1521.8,700.5 L1522.6,698.7 L1523.5,696.9 L1524.4,695.1 L1525.3,693.4 L1526.1,691.6 L1526.9,689.8 L1527.5,688 L1528.1,686.3 L1528.5,684.5 L1528.8,682.7 L1529,681 L1529,679.2 L1528.8,677.4 L1528.6,675.6 L1528.1,673.9 L1527.6,672.1 L1526.9,670.3 L1526.2,668.5 L1525.4,666.8 L1524.5,665 L1523.6,663.2 L1522.7,661.4 L1521.8,659.6 L1521,657.9 L1520.2,656.1 L1519.5,654.3 L1519,652.5 L1518.5,650.8 L1518.2,649" fill="none" stroke="#d3c7aa" stroke-width="11" stroke-linecap="round"/>
<path d="M1521,601 L1548,647 L1494,647 Z" fill="#d3c7aa"/>
<path d="M1569.8,720 L1569.2,716.6 L1569,713.1 L1569.4,709.7 L1570.3,706.3 L1571.7,702.9 L1573.3,699.5 L1575,696 L1576.7,692.6 L1578.1,689.2 L1579.2,685.8 L1579.9,682.3 L1580,678.9 L1579.5,675.5 L1578.6,672 L1577.2,668.6 L1575.6,665.2 L1573.9,661.8 L1572.2,658.4 L1570.8,654.9 L1569.7,651.5 L1569.1,648.1 L1569,644.6 L1569.5,641.2 L1570.5,637.8 L1571.9,634.4 L1573.5,631 L1575.2,627.5 L1576.9,624.1 L1578.3,620.7 L1579.4,617.2 L1579.9,613.8 L1579.9,610.4 L1579.4,607 L1578.4,603.5 L1577,600.1 L1575.4,596.7 L1573.6,593.3 L1572,589.9 L1570.6,586.4 L1569.6,583" fill="none" stroke="#d3c7aa" stroke-width="11" stroke-linecap="round"/>
<path d="M1572,534 L1599,581 L1545,581 Z" fill="#d3c7aa"/>
<path d="M7,62 L7,401 A292,54 0 0 0 591,401 L591,62 Z" fill="#626262"/>
<path d="M7,187 A292,46 0 0 0 591,187" fill="none" stroke="#8e8e8e" stroke-width="3"/>
<path d="M7,62 L7,186 A292,46 0 0 0 591,186 L591,62 Z" fill="#22785c"/>
<path d="M7,62 L7,132 A292,46 0 0 0 591,132 L591,62 Z" fill="#2e8a72"/>
<path d="M7,62 L7,122 A292,46 0 0 0 591,122 L591,62 Z" fill="#88882c"/>
<ellipse cx="299" cy="62" rx="292" ry="54" fill="#939537"/>
<g transform="translate(136,63) rotate(0) scale(0.3,0.3) translate(-146,-146)"><use href="#phalo" fill="#bccd80" stroke="#bccd80" stroke-width="18" opacity="0.9" filter="url(#bhalo)"/><use href="#pcol" opacity="0.72" filter="url(#bmini)"/></g>
<g transform="translate(242,63) rotate(0) scale(0.3,0.3) translate(-146,-146)"><use href="#phalo" fill="#bccd80" stroke="#bccd80" stroke-width="18" opacity="0.9" filter="url(#bhalo)"/><use href="#pcol" opacity="0.72" filter="url(#bmini)"/></g>
<g transform="translate(348,63) rotate(0) scale(0.3,0.3) translate(-146,-146)"><use href="#phalo" fill="#bccd80" stroke="#bccd80" stroke-width="18" opacity="0.9" filter="url(#bhalo)"/><use href="#pcol" opacity="0.72" filter="url(#bmini)"/></g>
<g transform="translate(454,63) rotate(0) scale(0.3,0.3) translate(-146,-146)"><use href="#phalo" fill="#bccd80" stroke="#bccd80" stroke-width="18" opacity="0.9" filter="url(#bhalo)"/><use href="#pcol" opacity="0.72" filter="url(#bmini)"/></g>
<path d="M9,1048 L9,1327 A292,47 0 0 0 593,1327 L593,1048 Z" fill="#626262"/>
<path d="M9,1107 A292,48 0 0 0 593,1107" fill="none" stroke="#8e8e8e" stroke-width="3"/>
<path d="M9,1048 L9,1106 A292,48 0 0 0 593,1106 L593,1048 Z" fill="#22785c"/>
<ellipse cx="301" cy="1048" rx="292" ry="55" fill="#2f836b"/>
<path d="M9,1937 L9,2155 A292,51 0 0 0 593,2155 L593,1937 Z" fill="#626262"/>
<ellipse cx="301" cy="1937" rx="292" ry="54" fill="#878787"/>
<path d="M1176,67 A291.5,49 0 0 1 1759,67 L1759,411 A291.5,53 0 0 1 1176,411 Z" fill="#626262"/>
<path d="M1176,274 A291.5,40 0 0 1 1759,274 L1759,411 A291.5,53 0 0 1 1176,411 Z" fill="#22785c"/>
<path d="M1176,274 A291.5,40 0 0 1 1759,274" fill="none" stroke="#8e8e8e" stroke-width="3"/>
<path d="M1176,335 A291.5,43 0 0 1 1759,335 L1759,411 A291.5,53 0 0 1 1176,411 Z" fill="#2e8a72"/>
<path d="M1176,347 A291.5,43 0 0 1 1759,347 L1759,411 A291.5,53 0 0 1 1176,411 Z" fill="#88882c"/>
<ellipse cx="1467.5" cy="411" rx="291.5" ry="53" fill="#939537"/>
<g transform="translate(1312,408) rotate(90) scale(0.3,0.3) translate(-146,-146)"><use href="#phalo" fill="#bccd80" stroke="#bccd80" stroke-width="18" opacity="0.9" filter="url(#bhalo)"/><use href="#pcol" opacity="0.72" filter="url(#bmini)"/></g>
<g transform="translate(1410,406) rotate(0) scale(0.3,0.3) translate(-146,-146)"><use href="#phalo" fill="#bccd80" stroke="#bccd80" stroke-width="18" opacity="0.9" filter="url(#bhalo)"/><use href="#pcol" opacity="0.72" filter="url(#bmini)"/></g>
<g transform="translate(1518,406) rotate(-90) scale(0.3,0.3) translate(-146,-146)"><use href="#phalo" fill="#bccd80" stroke="#bccd80" stroke-width="18" opacity="0.9" filter="url(#bhalo)"/><use href="#pcol" opacity="0.72" filter="url(#bmini)"/></g>
<g transform="translate(1627,405) rotate(5) scale(0.3,0.3) translate(-146,-146)"><use href="#phalo" fill="#bccd80" stroke="#bccd80" stroke-width="18" opacity="0.9" filter="url(#bhalo)"/><use href="#pcol" opacity="0.72" filter="url(#bmini)"/></g>
<path d="M2337,58 A291,50 0 0 1 2919,58 L2919,401 A291,50 0 0 1 2337,401 Z" fill="#626262"/>
<path d="M2337,268 A291,41 0 0 1 2919,268 L2919,401 A291,50 0 0 1 2337,401 Z" fill="#22785c"/>
<path d="M2337,268 A291,41 0 0 1 2919,268" fill="none" stroke="#8e8e8e" stroke-width="3"/>
<path d="M2337,326 A291,43 0 0 1 2919,326 L2919,401 A291,50 0 0 1 2337,401 Z" fill="#2e8a72"/>
<path d="M2337,338 A291,43 0 0 1 2919,338 L2919,401 A291,50 0 0 1 2337,401 Z" fill="#88882c"/>
<ellipse cx="2628" cy="401" rx="291" ry="50" fill="#939537"/>
<g transform="translate(2464,398) rotate(90) scale(0.3,0.3) translate(-146,-146)"><use href="#phalo" fill="#bccd80" stroke="#bccd80" stroke-width="18" opacity="0.9" filter="url(#bhalo)"/><use href="#pcol" opacity="0.72" filter="url(#bmini)"/></g>
<g transform="translate(2562,396) rotate(0) scale(0.3,0.3) translate(-146,-146)"><use href="#phalo" fill="#bccd80" stroke="#bccd80" stroke-width="18" opacity="0.9" filter="url(#bhalo)"/><use href="#pcol" opacity="0.72" filter="url(#bmini)"/></g>
<g transform="translate(2672,396) rotate(-90) scale(0.3,0.3) translate(-146,-146)"><use href="#phalo" fill="#bccd80" stroke="#bccd80" stroke-width="18" opacity="0.9" filter="url(#bhalo)"/><use href="#pcol" opacity="0.72" filter="url(#bmini)"/></g>
<g transform="translate(2780,396) rotate(5) scale(0.3,0.3) translate(-146,-146)"><use href="#phalo" fill="#bccd80" stroke="#bccd80" stroke-width="18" opacity="0.9" filter="url(#bhalo)"/><use href="#pcol" opacity="0.72" filter="url(#bmini)"/></g>
<path d="M297,1832 L297,1485 L275,1485 L306,1430 L337,1485 L315,1485 L315,1832 Z" fill="#000"/>
<path d="M297,924 L297,577 L275,577 L306,522 L337,577 L315,577 L315,924 Z" fill="#000"/>
<path d="M663,218 L1010,218 L1010,197 L1064,227 L1010,257 L1010,236 L663,236 Z" fill="#000"/>
<path d="M1831,215.5 L2179,215.5 L2179,194 L2232,224.5 L2179,255 L2179,233.5 L1831,233.5 Z" fill="#000"/>
<path d="M2236,1263.5 L1888,1263.5 L1888,1241.5 L1834,1272 L1888,1302.5 L1888,1280.5 L2236,1280.5 Z" fill="#000"/>
<path d="M2817.5,1866 L2817.5,1936 L2794,1936 L2826,1991 L2858,1936 L2834.5,1936 L2834.5,1866 Z" fill="#000"/>
<g fill="none" stroke="#111" stroke-linejoin="round" stroke-linecap="butt">
<rect x="1220.5" y="1033.5" width="528.5" height="423.5" rx="5" stroke-width="8.5"/>
<line x1="1222" y1="1094" x2="1240" y2="1094" stroke-width="7"/>
<line x1="1222" y1="1214" x2="1240" y2="1214" stroke-width="7"/>
<line x1="1222" y1="1335" x2="1240" y2="1335" stroke-width="7"/>
<line x1="1378.5" y1="1456" x2="1378.5" y2="1435" stroke-width="7"/>
<line x1="1537" y1="1456" x2="1537" y2="1435" stroke-width="7"/>
<line x1="1696" y1="1456" x2="1696" y2="1435" stroke-width="7"/>
<path d="M1242,1449.5 L1302,1449.5" stroke-width="7"/>
<path d="M1302,1450 C1304,1440 1308,1437.5 1316,1437 L1385.5,1433.5 L1385.5,1392 C1385.5,1384 1390,1382 1398,1381.5 L1466,1377.5 L1466,1312 C1466,1307 1470,1305.5 1478,1305 L1534.5,1299.5 L1534.5,1220 C1534.5,1213 1538,1210 1544,1209.7 L1593,1206 L1593,1158 C1594,1154 1596,1153 1599,1153 L1635.5,1152 L1635.5,1104 C1636,1100 1637,1099 1640,1099 L1678,1099 L1678,1058 C1678,1053 1680,1051.5 1683,1052 L1689,1058.5 L1712,1057.5" stroke-width="5.5" stroke-linejoin="round" stroke-linecap="round"/>
</g>
<path d="M2444,661 A195,195 0 0 1 2812,616" fill="none" stroke="#000" stroke-width="20" stroke-linecap="round"/><path d="M2827,663 L2784,622 L2845,606 Z" fill="#000"/>
<path d="M2836,734 A195,195 0 0 1 2463,778" fill="none" stroke="#000" stroke-width="20" stroke-linecap="round"/><path d="M2446,727 L2430,790 L2493,772 Z" fill="#000"/>
<path d="M2441,1052 A195,195 0 0 1 2810,1012" fill="none" stroke="#000" stroke-width="20" stroke-linecap="round"/><path d="M2824,1062 L2781,1019 L2841,1001 Z" fill="#000"/>
<path d="M2834,1463 A195,195 0 0 1 2463,1503" fill="none" stroke="#000" stroke-width="20" stroke-linecap="round"/><path d="M2448,1452 L2431,1514 L2492,1496 Z" fill="#000"/>
<path d="M2445,1771 A195,195 0 0 1 2812,1737" fill="none" stroke="#000" stroke-width="20" stroke-linecap="round"/><path d="M2828,1787 L2782,1743 L2844,1726 Z" fill="#000"/>
<use href="#pgrey" x="2305" y="1088" filter="url(#bbig)"/>
<use href="#pcol" x="2703" y="1090" filter="url(#bbig)"/>
<g font-family='"Liberation Sans", sans-serif'>
<text x="83.1" y="1652" font-size="55" font-weight="normal" font-style="normal" fill="#363636" stroke="#363636" stroke-width="0.8" stroke-linejoin="round" textLength="149.8" lengthAdjust="spacingAndGlyphs">Step 1</text>
<text x="81" y="742" font-size="55" font-weight="normal" font-style="normal" fill="#363636" stroke="#363636" stroke-width="0.8" stroke-linejoin="round" textLength="158" lengthAdjust="spacingAndGlyphs">Step 2</text>
<text x="782" y="146" font-size="55" font-weight="normal" font-style="normal" fill="#363636" stroke="#363636" stroke-width="0.8" stroke-linejoin="round" textLength="161.1" lengthAdjust="spacingAndGlyphs">Step 3</text>
<text x="1953" y="146" font-size="55" font-weight="normal" font-style="normal" fill="#363636" stroke="#363636" stroke-width="0.8" stroke-linejoin="round" textLength="158" lengthAdjust="spacingAndGlyphs">Step 4</text>
<text x="1954" y="1195" font-size="55" font-weight="normal" font-style="normal" fill="#363636" stroke="#363636" stroke-width="0.8" stroke-linejoin="round" textLength="159" lengthAdjust="spacingAndGlyphs">Step 5</text>
<text x="372.8" y="1623" font-size="44" font-weight="normal" font-style="normal" fill="#363636" stroke="#363636" stroke-width="1.2" stroke-linejoin="round" textLength="350.7" lengthAdjust="spacingAndGlyphs">Modification with</text>
<text x="395" y="1675" font-size="44" font-weight="normal" font-style="normal" fill="#363636" stroke="#363636" stroke-width="1.2" stroke-linejoin="round" textLength="307.9" lengthAdjust="spacingAndGlyphs">Ti<tspan font-size="27" dy="6">3</tspan><tspan dy="-6">C</tspan><tspan font-size="27" dy="6">2</tspan><tspan dy="-6">T</tspan><tspan font-size="27" dy="6">x</tspan><tspan dy="-6"> MXenes</tspan></text>
<text x="437" y="711" font-size="44" font-weight="normal" font-style="normal" fill="#363636" stroke="#363636" stroke-width="1.2" stroke-linejoin="round" textLength="81.9" lengthAdjust="spacingAndGlyphs">GO<tspan font-size="31">x</tspan></text>
<text x="377.9" y="762" font-size="44" font-weight="normal" font-style="normal" fill="#363636" stroke="#363636" stroke-width="1.2" stroke-linejoin="round" textLength="213.8" lengthAdjust="spacingAndGlyphs">deposition</text>
<text x="686.4" y="335" font-size="44" font-weight="normal" font-style="normal" fill="#363636" stroke="#363636" stroke-width="1.2" stroke-linejoin="round" textLength="355.4" lengthAdjust="spacingAndGlyphs">GO<tspan font-size="31">x</tspan> cross-linking</text>
<text x="741" y="386" font-size="44" font-weight="normal" font-style="normal" fill="#363636" stroke="#363636" stroke-width="1.2" stroke-linejoin="round" textLength="247.2" lengthAdjust="spacingAndGlyphs">by GA vapor</text>
<text x="1882.9" y="334.5" font-size="44" font-weight="normal" font-style="normal" fill="#363636" stroke="#363636" stroke-width="1.2" stroke-linejoin="round" textLength="299.7" lengthAdjust="spacingAndGlyphs">GOx catalyzed</text>
<text x="1856" y="386" font-size="44" font-weight="normal" font-style="normal" fill="#363636" stroke="#363636" stroke-width="1.2" stroke-linejoin="round" textLength="356.2" lengthAdjust="spacingAndGlyphs">glucose oxidation</text>
<text x="1891" y="1385" font-size="44" font-weight="normal" font-style="normal" fill="#363636" stroke="#363636" stroke-width="1.2" stroke-linejoin="round" textLength="285.9" lengthAdjust="spacingAndGlyphs">Amperometric</text>
<text x="1938.9" y="1435.5" font-size="44" font-weight="normal" font-style="normal" fill="#363636" stroke="#363636" stroke-width="1.2" stroke-linejoin="round" textLength="188.1" lengthAdjust="spacingAndGlyphs">response</text>
<text x="2595" y="556.5" font-size="46" font-weight="normal" font-style="normal" fill="#363636" stroke="#363636" stroke-width="1.2" stroke-linejoin="round" textLength="68.6" lengthAdjust="spacingAndGlyphs">-2e</text>
<text x="2377" y="709" font-size="44" font-weight="normal" font-style="normal" fill="#363636" stroke="#363636" stroke-width="1.2" stroke-linejoin="round" textLength="145.4" lengthAdjust="spacingAndGlyphs">PMSH<tspan font-size="31" dy="4">2</tspan></text>
<text x="2782.1" y="709" font-size="44" font-weight="normal" font-style="normal" fill="#363636" stroke="#363636" stroke-width="1.2" stroke-linejoin="round" textLength="93.3" lengthAdjust="spacingAndGlyphs">PMS</text>
<text x="2390" y="1424" font-size="44" font-weight="normal" font-style="normal" fill="#363636" stroke="#363636" stroke-width="1.2" stroke-linejoin="round" textLength="188.1" lengthAdjust="spacingAndGlyphs">GO<tspan font-size="31">x</tspan> (red)</text>
<text x="2810" y="1424" font-size="44" font-weight="normal" font-style="normal" fill="#363636" stroke="#363636" stroke-width="1.2" stroke-linejoin="round" textLength="169.9" lengthAdjust="spacingAndGlyphs">GO<tspan font-size="31">x</tspan> (ox)</text>
<text x="2325.1" y="1835" font-size="44" font-weight="normal" font-style="normal" fill="#363636" stroke="#363636" stroke-width="1.2" stroke-linejoin="round" textLength="257.8" lengthAdjust="spacingAndGlyphs"><tspan font-style="italic" font-weight="bold">β</tspan>-D-Glucose</text>
<text x="2619.8" y="1835" font-size="44" font-weight="normal" font-style="normal" fill="#363636" stroke="#363636" stroke-width="1.2" stroke-linejoin="round" textLength="430.6" lengthAdjust="spacingAndGlyphs">D-Glucono-<tspan font-style="italic" font-weight="bold">δ</tspan>-lactone</text>
<text x="2849.9" y="1920" font-size="32" font-weight="normal" font-style="normal" fill="#363636" stroke="#363636" stroke-width="1.2" stroke-linejoin="round" textLength="81.7" lengthAdjust="spacingAndGlyphs">-H<tspan font-size="23" dy="5">2</tspan><tspan dy="-5">O</tspan></text>
<text x="2690.9" y="2039" font-size="44" font-weight="normal" font-style="normal" fill="#363636" stroke="#363636" stroke-width="1.2" stroke-linejoin="round" textLength="275.3" lengthAdjust="spacingAndGlyphs">Gluconic acid</text>
<text x="1445.9" y="1512" font-size="55" font-weight="bold" font-style="normal" fill="#111" stroke="#111" stroke-width="0.6" stroke-linejoin="round" textLength="82.6" lengthAdjust="spacingAndGlyphs"><tspan font-style="italic">t</tspan>, s</text>
<rect x="2661" y="523" width="12" height="4.5" fill="#363636"/>
<text transform="translate(1179,1306) rotate(-90)" font-size="62" font-weight="bold" fill="#111" textLength="125" lengthAdjust="spacingAndGlyphs"><tspan font-style="italic">I</tspan>, µA</text>
</g>
</g>
</svg></body></html>
